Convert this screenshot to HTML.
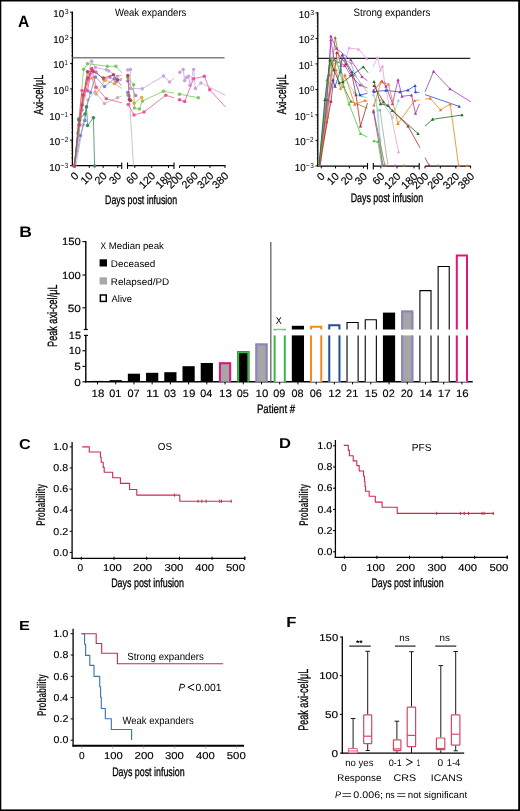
<!DOCTYPE html>
<html><head><meta charset="utf-8"><title>Figure</title>
<style>html,body{margin:0;padding:0;background:#fff;}svg{display:block;will-change:transform;text-rendering:geometricPrecision;}text{font-family:"Liberation Sans", sans-serif;}</style>
</head><body>
<svg width="520" height="811" viewBox="0 0 520 811" font-family='"Liberation Sans", sans-serif'>
<rect x="0" y="0" width="520" height="811" fill="#fff"/>
<rect x="0.00" y="0.00" width="520.00" height="1.50" fill="#000"/>
<rect x="0.00" y="0.00" width="1.30" height="811.00" fill="#000"/>
<rect x="518.20" y="0.00" width="1.80" height="811.00" fill="#000"/>
<rect x="0.00" y="809.40" width="520.00" height="1.60" fill="#000"/>
<text x="17.91" y="26.70" font-size="16.43" font-weight="bold" textLength="11.32" lengthAdjust="spacingAndGlyphs">A</text>
<text x="19.36" y="237.00" font-size="15.29" font-weight="bold" textLength="12.67" lengthAdjust="spacingAndGlyphs">B</text>
<text x="18.95" y="448.70" font-size="14.29" font-weight="bold" textLength="11.69" lengthAdjust="spacingAndGlyphs">C</text>
<text x="278.92" y="447.70" font-size="14.29" font-weight="bold" textLength="11.98" lengthAdjust="spacingAndGlyphs">D</text>
<text x="18.94" y="629.80" font-size="13.14" font-weight="bold" textLength="10.86" lengthAdjust="spacingAndGlyphs">E</text>
<text x="286.22" y="626.90" font-size="14.57" font-weight="bold" textLength="10.18" lengthAdjust="spacingAndGlyphs">F</text>
<line x1="72.40" y1="11.60" x2="72.40" y2="165.70" stroke="#000" stroke-width="1.3"/>
<line x1="72.40" y1="57.80" x2="224.50" y2="57.80" stroke="#808080" stroke-width="1.5"/>
<line x1="70.10" y1="12.20" x2="72.40" y2="12.20" stroke="#000" stroke-width="1.0"/>
<line x1="71.20" y1="30.08" x2="72.40" y2="30.08" stroke="#000" stroke-width="0.5"/>
<line x1="71.20" y1="25.58" x2="72.40" y2="25.58" stroke="#000" stroke-width="0.5"/>
<line x1="71.20" y1="22.38" x2="72.40" y2="22.38" stroke="#000" stroke-width="0.5"/>
<line x1="71.20" y1="19.90" x2="72.40" y2="19.90" stroke="#000" stroke-width="0.5"/>
<line x1="71.20" y1="17.88" x2="72.40" y2="17.88" stroke="#000" stroke-width="0.5"/>
<line x1="71.20" y1="16.16" x2="72.40" y2="16.16" stroke="#000" stroke-width="0.5"/>
<line x1="71.20" y1="14.68" x2="72.40" y2="14.68" stroke="#000" stroke-width="0.5"/>
<line x1="71.20" y1="13.37" x2="72.40" y2="13.37" stroke="#000" stroke-width="0.5"/>
<text x="53.37" y="17.20" font-size="10.00" textLength="10.84" lengthAdjust="spacingAndGlyphs" stroke="#000" stroke-width="0.14">10</text>
<text x="64.82" y="14.20" font-size="7.40" textLength="3.91" lengthAdjust="spacingAndGlyphs">3</text>
<line x1="70.10" y1="37.78" x2="72.40" y2="37.78" stroke="#000" stroke-width="1.0"/>
<line x1="71.20" y1="55.67" x2="72.40" y2="55.67" stroke="#000" stroke-width="0.5"/>
<line x1="71.20" y1="51.16" x2="72.40" y2="51.16" stroke="#000" stroke-width="0.5"/>
<line x1="71.20" y1="47.96" x2="72.40" y2="47.96" stroke="#000" stroke-width="0.5"/>
<line x1="71.20" y1="45.48" x2="72.40" y2="45.48" stroke="#000" stroke-width="0.5"/>
<line x1="71.20" y1="43.46" x2="72.40" y2="43.46" stroke="#000" stroke-width="0.5"/>
<line x1="71.20" y1="41.75" x2="72.40" y2="41.75" stroke="#000" stroke-width="0.5"/>
<line x1="71.20" y1="40.26" x2="72.40" y2="40.26" stroke="#000" stroke-width="0.5"/>
<line x1="71.20" y1="38.95" x2="72.40" y2="38.95" stroke="#000" stroke-width="0.5"/>
<text x="53.37" y="42.78" font-size="10.00" textLength="10.84" lengthAdjust="spacingAndGlyphs" stroke="#000" stroke-width="0.14">10</text>
<text x="64.74" y="39.78" font-size="7.40" textLength="4.03" lengthAdjust="spacingAndGlyphs">2</text>
<line x1="70.10" y1="63.37" x2="72.40" y2="63.37" stroke="#000" stroke-width="1.0"/>
<line x1="71.20" y1="81.25" x2="72.40" y2="81.25" stroke="#000" stroke-width="0.5"/>
<line x1="71.20" y1="76.74" x2="72.40" y2="76.74" stroke="#000" stroke-width="0.5"/>
<line x1="71.20" y1="73.55" x2="72.40" y2="73.55" stroke="#000" stroke-width="0.5"/>
<line x1="71.20" y1="71.07" x2="72.40" y2="71.07" stroke="#000" stroke-width="0.5"/>
<line x1="71.20" y1="69.04" x2="72.40" y2="69.04" stroke="#000" stroke-width="0.5"/>
<line x1="71.20" y1="67.33" x2="72.40" y2="67.33" stroke="#000" stroke-width="0.5"/>
<line x1="71.20" y1="65.85" x2="72.40" y2="65.85" stroke="#000" stroke-width="0.5"/>
<line x1="71.20" y1="64.54" x2="72.40" y2="64.54" stroke="#000" stroke-width="0.5"/>
<text x="53.37" y="68.37" font-size="10.00" textLength="10.84" lengthAdjust="spacingAndGlyphs" stroke="#000" stroke-width="0.14">10</text>
<text x="64.46" y="65.37" font-size="7.40" textLength="3.23" lengthAdjust="spacingAndGlyphs">1</text>
<line x1="70.10" y1="88.95" x2="72.40" y2="88.95" stroke="#000" stroke-width="1.0"/>
<line x1="71.20" y1="106.83" x2="72.40" y2="106.83" stroke="#000" stroke-width="0.5"/>
<line x1="71.20" y1="102.33" x2="72.40" y2="102.33" stroke="#000" stroke-width="0.5"/>
<line x1="71.20" y1="99.13" x2="72.40" y2="99.13" stroke="#000" stroke-width="0.5"/>
<line x1="71.20" y1="96.65" x2="72.40" y2="96.65" stroke="#000" stroke-width="0.5"/>
<line x1="71.20" y1="94.63" x2="72.40" y2="94.63" stroke="#000" stroke-width="0.5"/>
<line x1="71.20" y1="92.91" x2="72.40" y2="92.91" stroke="#000" stroke-width="0.5"/>
<line x1="71.20" y1="91.43" x2="72.40" y2="91.43" stroke="#000" stroke-width="0.5"/>
<line x1="71.20" y1="90.12" x2="72.40" y2="90.12" stroke="#000" stroke-width="0.5"/>
<text x="53.37" y="93.95" font-size="10.00" textLength="10.84" lengthAdjust="spacingAndGlyphs" stroke="#000" stroke-width="0.14">10</text>
<text x="64.82" y="90.95" font-size="7.40" textLength="3.86" lengthAdjust="spacingAndGlyphs">0</text>
<line x1="70.10" y1="114.53" x2="72.40" y2="114.53" stroke="#000" stroke-width="1.0"/>
<line x1="71.20" y1="132.42" x2="72.40" y2="132.42" stroke="#000" stroke-width="0.5"/>
<line x1="71.20" y1="127.91" x2="72.40" y2="127.91" stroke="#000" stroke-width="0.5"/>
<line x1="71.20" y1="124.71" x2="72.40" y2="124.71" stroke="#000" stroke-width="0.5"/>
<line x1="71.20" y1="122.23" x2="72.40" y2="122.23" stroke="#000" stroke-width="0.5"/>
<line x1="71.20" y1="120.21" x2="72.40" y2="120.21" stroke="#000" stroke-width="0.5"/>
<line x1="71.20" y1="118.50" x2="72.40" y2="118.50" stroke="#000" stroke-width="0.5"/>
<line x1="71.20" y1="117.01" x2="72.40" y2="117.01" stroke="#000" stroke-width="0.5"/>
<line x1="71.20" y1="115.70" x2="72.40" y2="115.70" stroke="#000" stroke-width="0.5"/>
<text x="49.36" y="119.53" font-size="10.00" textLength="10.96" lengthAdjust="spacingAndGlyphs" stroke="#000" stroke-width="0.14">10</text>
<text x="60.45" y="116.53" font-size="7.40" textLength="4.09" lengthAdjust="spacingAndGlyphs">−</text>
<text x="64.78" y="116.53" font-size="7.40" textLength="3.10" lengthAdjust="spacingAndGlyphs">1</text>
<line x1="70.10" y1="140.12" x2="72.40" y2="140.12" stroke="#000" stroke-width="1.0"/>
<line x1="71.20" y1="158.00" x2="72.40" y2="158.00" stroke="#000" stroke-width="0.5"/>
<line x1="71.20" y1="153.49" x2="72.40" y2="153.49" stroke="#000" stroke-width="0.5"/>
<line x1="71.20" y1="150.30" x2="72.40" y2="150.30" stroke="#000" stroke-width="0.5"/>
<line x1="71.20" y1="147.82" x2="72.40" y2="147.82" stroke="#000" stroke-width="0.5"/>
<line x1="71.20" y1="145.79" x2="72.40" y2="145.79" stroke="#000" stroke-width="0.5"/>
<line x1="71.20" y1="144.08" x2="72.40" y2="144.08" stroke="#000" stroke-width="0.5"/>
<line x1="71.20" y1="142.60" x2="72.40" y2="142.60" stroke="#000" stroke-width="0.5"/>
<line x1="71.20" y1="141.29" x2="72.40" y2="141.29" stroke="#000" stroke-width="0.5"/>
<text x="49.36" y="145.12" font-size="10.00" textLength="10.96" lengthAdjust="spacingAndGlyphs" stroke="#000" stroke-width="0.14">10</text>
<text x="60.45" y="142.12" font-size="7.40" textLength="4.09" lengthAdjust="spacingAndGlyphs">−</text>
<text x="64.67" y="142.12" font-size="7.40" textLength="3.67" lengthAdjust="spacingAndGlyphs">2</text>
<line x1="70.10" y1="165.70" x2="72.40" y2="165.70" stroke="#000" stroke-width="1.0"/>
<text x="49.36" y="170.70" font-size="10.00" textLength="10.96" lengthAdjust="spacingAndGlyphs" stroke="#000" stroke-width="0.14">10</text>
<text x="60.45" y="167.70" font-size="7.40" textLength="4.09" lengthAdjust="spacingAndGlyphs">−</text>
<text x="64.74" y="167.70" font-size="7.40" textLength="3.55" lengthAdjust="spacingAndGlyphs">3</text>
<line x1="71.75" y1="165.70" x2="121.70" y2="165.70" stroke="#000" stroke-width="1.3"/>
<line x1="121.70" y1="162.50" x2="121.70" y2="168.90" stroke="#000" stroke-width="1.1"/>
<line x1="127.50" y1="165.70" x2="174.00" y2="165.70" stroke="#000" stroke-width="1.3"/>
<line x1="127.50" y1="162.50" x2="127.50" y2="168.90" stroke="#000" stroke-width="1.1"/>
<line x1="174.00" y1="162.50" x2="174.00" y2="168.90" stroke="#000" stroke-width="1.1"/>
<line x1="179.50" y1="165.70" x2="225.50" y2="165.70" stroke="#000" stroke-width="1.3"/>
<line x1="74.90" y1="165.70" x2="74.90" y2="167.90" stroke="#000" stroke-width="1.0"/>
<line x1="89.30" y1="165.70" x2="89.30" y2="167.90" stroke="#000" stroke-width="1.0"/>
<line x1="103.20" y1="165.70" x2="103.20" y2="167.90" stroke="#000" stroke-width="1.0"/>
<line x1="117.80" y1="165.70" x2="117.80" y2="167.90" stroke="#000" stroke-width="1.0"/>
<line x1="134.80" y1="165.70" x2="134.80" y2="167.90" stroke="#000" stroke-width="1.0"/>
<line x1="151.70" y1="165.70" x2="151.70" y2="167.90" stroke="#000" stroke-width="1.0"/>
<line x1="168.50" y1="165.70" x2="168.50" y2="167.90" stroke="#000" stroke-width="1.0"/>
<line x1="179.50" y1="165.70" x2="179.50" y2="167.90" stroke="#000" stroke-width="1.0"/>
<line x1="194.50" y1="165.70" x2="194.50" y2="167.90" stroke="#000" stroke-width="1.0"/>
<line x1="210.00" y1="165.70" x2="210.00" y2="167.90" stroke="#000" stroke-width="1.0"/>
<line x1="225.00" y1="165.70" x2="225.00" y2="167.90" stroke="#000" stroke-width="1.0"/>
<text x="79.20" y="176.40" font-size="10.8" text-anchor="end" transform="rotate(-45 79.20 176.40)" stroke="#000" stroke-width="0.15">0</text>
<text x="93.60" y="176.40" font-size="10.8" text-anchor="end" transform="rotate(-45 93.60 176.40)" stroke="#000" stroke-width="0.15">10</text>
<text x="107.50" y="176.40" font-size="10.8" text-anchor="end" transform="rotate(-45 107.50 176.40)" stroke="#000" stroke-width="0.15">20</text>
<text x="122.10" y="176.40" font-size="10.8" text-anchor="end" transform="rotate(-45 122.10 176.40)" stroke="#000" stroke-width="0.15">30</text>
<text x="139.10" y="176.40" font-size="10.8" text-anchor="end" transform="rotate(-45 139.10 176.40)" stroke="#000" stroke-width="0.15">60</text>
<text x="156.00" y="176.40" font-size="10.8" text-anchor="end" transform="rotate(-45 156.00 176.40)" stroke="#000" stroke-width="0.15">120</text>
<text x="172.80" y="176.40" font-size="10.8" text-anchor="end" transform="rotate(-45 172.80 176.40)" stroke="#000" stroke-width="0.15">180</text>
<text x="183.80" y="176.40" font-size="10.8" text-anchor="end" transform="rotate(-45 183.80 176.40)" stroke="#000" stroke-width="0.15">200</text>
<text x="198.80" y="176.40" font-size="10.8" text-anchor="end" transform="rotate(-45 198.80 176.40)" stroke="#000" stroke-width="0.15">260</text>
<text x="214.30" y="176.40" font-size="10.8" text-anchor="end" transform="rotate(-45 214.30 176.40)" stroke="#000" stroke-width="0.15">320</text>
<text x="229.30" y="176.40" font-size="10.8" text-anchor="end" transform="rotate(-45 229.30 176.40)" stroke="#000" stroke-width="0.15">380</text>
<text x="114.95" y="15.80" font-size="10.60" textLength="71.39" lengthAdjust="spacingAndGlyphs">Weak expanders</text>
<text x="42.70" y="114.65" font-size="13.20" textLength="40.02" lengthAdjust="spacingAndGlyphs" transform="rotate(-90 42.70 114.65)" stroke="#000" stroke-width="0.3">Axi-cel/μL</text>
<text x="105.10" y="203.50" font-size="12.40" textLength="71.99" lengthAdjust="spacingAndGlyphs" stroke="#000" stroke-width="0.3">Days post infusion</text>
<line x1="317.80" y1="12.30" x2="317.80" y2="166.20" stroke="#000" stroke-width="1.3"/>
<line x1="317.80" y1="58.40" x2="470.30" y2="58.40" stroke="#222" stroke-width="1.2"/>
<line x1="315.50" y1="12.90" x2="317.80" y2="12.90" stroke="#000" stroke-width="1.0"/>
<line x1="316.60" y1="30.72" x2="317.80" y2="30.72" stroke="#000" stroke-width="0.5"/>
<line x1="316.60" y1="26.23" x2="317.80" y2="26.23" stroke="#000" stroke-width="0.5"/>
<line x1="316.60" y1="23.05" x2="317.80" y2="23.05" stroke="#000" stroke-width="0.5"/>
<line x1="316.60" y1="20.58" x2="317.80" y2="20.58" stroke="#000" stroke-width="0.5"/>
<line x1="316.60" y1="18.56" x2="317.80" y2="18.56" stroke="#000" stroke-width="0.5"/>
<line x1="316.60" y1="16.85" x2="317.80" y2="16.85" stroke="#000" stroke-width="0.5"/>
<line x1="316.60" y1="15.37" x2="317.80" y2="15.37" stroke="#000" stroke-width="0.5"/>
<line x1="316.60" y1="14.07" x2="317.80" y2="14.07" stroke="#000" stroke-width="0.5"/>
<text x="298.77" y="17.90" font-size="10.00" textLength="10.84" lengthAdjust="spacingAndGlyphs" stroke="#000" stroke-width="0.14">10</text>
<text x="310.22" y="14.90" font-size="7.40" textLength="3.91" lengthAdjust="spacingAndGlyphs">3</text>
<line x1="315.50" y1="38.40" x2="317.80" y2="38.40" stroke="#000" stroke-width="1.0"/>
<line x1="316.60" y1="56.22" x2="317.80" y2="56.22" stroke="#000" stroke-width="0.5"/>
<line x1="316.60" y1="51.73" x2="317.80" y2="51.73" stroke="#000" stroke-width="0.5"/>
<line x1="316.60" y1="48.55" x2="317.80" y2="48.55" stroke="#000" stroke-width="0.5"/>
<line x1="316.60" y1="46.08" x2="317.80" y2="46.08" stroke="#000" stroke-width="0.5"/>
<line x1="316.60" y1="44.06" x2="317.80" y2="44.06" stroke="#000" stroke-width="0.5"/>
<line x1="316.60" y1="42.35" x2="317.80" y2="42.35" stroke="#000" stroke-width="0.5"/>
<line x1="316.60" y1="40.87" x2="317.80" y2="40.87" stroke="#000" stroke-width="0.5"/>
<line x1="316.60" y1="39.57" x2="317.80" y2="39.57" stroke="#000" stroke-width="0.5"/>
<text x="298.77" y="43.40" font-size="10.00" textLength="10.84" lengthAdjust="spacingAndGlyphs" stroke="#000" stroke-width="0.14">10</text>
<text x="310.14" y="40.40" font-size="7.40" textLength="4.03" lengthAdjust="spacingAndGlyphs">2</text>
<line x1="315.50" y1="63.90" x2="317.80" y2="63.90" stroke="#000" stroke-width="1.0"/>
<line x1="316.60" y1="81.72" x2="317.80" y2="81.72" stroke="#000" stroke-width="0.5"/>
<line x1="316.60" y1="77.23" x2="317.80" y2="77.23" stroke="#000" stroke-width="0.5"/>
<line x1="316.60" y1="74.05" x2="317.80" y2="74.05" stroke="#000" stroke-width="0.5"/>
<line x1="316.60" y1="71.58" x2="317.80" y2="71.58" stroke="#000" stroke-width="0.5"/>
<line x1="316.60" y1="69.56" x2="317.80" y2="69.56" stroke="#000" stroke-width="0.5"/>
<line x1="316.60" y1="67.85" x2="317.80" y2="67.85" stroke="#000" stroke-width="0.5"/>
<line x1="316.60" y1="66.37" x2="317.80" y2="66.37" stroke="#000" stroke-width="0.5"/>
<line x1="316.60" y1="65.07" x2="317.80" y2="65.07" stroke="#000" stroke-width="0.5"/>
<text x="298.77" y="68.90" font-size="10.00" textLength="10.84" lengthAdjust="spacingAndGlyphs" stroke="#000" stroke-width="0.14">10</text>
<text x="309.86" y="65.90" font-size="7.40" textLength="3.23" lengthAdjust="spacingAndGlyphs">1</text>
<line x1="315.50" y1="89.40" x2="317.80" y2="89.40" stroke="#000" stroke-width="1.0"/>
<line x1="316.60" y1="107.22" x2="317.80" y2="107.22" stroke="#000" stroke-width="0.5"/>
<line x1="316.60" y1="102.73" x2="317.80" y2="102.73" stroke="#000" stroke-width="0.5"/>
<line x1="316.60" y1="99.55" x2="317.80" y2="99.55" stroke="#000" stroke-width="0.5"/>
<line x1="316.60" y1="97.08" x2="317.80" y2="97.08" stroke="#000" stroke-width="0.5"/>
<line x1="316.60" y1="95.06" x2="317.80" y2="95.06" stroke="#000" stroke-width="0.5"/>
<line x1="316.60" y1="93.35" x2="317.80" y2="93.35" stroke="#000" stroke-width="0.5"/>
<line x1="316.60" y1="91.87" x2="317.80" y2="91.87" stroke="#000" stroke-width="0.5"/>
<line x1="316.60" y1="90.57" x2="317.80" y2="90.57" stroke="#000" stroke-width="0.5"/>
<text x="298.77" y="94.40" font-size="10.00" textLength="10.84" lengthAdjust="spacingAndGlyphs" stroke="#000" stroke-width="0.14">10</text>
<text x="310.22" y="91.40" font-size="7.40" textLength="3.86" lengthAdjust="spacingAndGlyphs">0</text>
<line x1="315.50" y1="114.90" x2="317.80" y2="114.90" stroke="#000" stroke-width="1.0"/>
<line x1="316.60" y1="132.72" x2="317.80" y2="132.72" stroke="#000" stroke-width="0.5"/>
<line x1="316.60" y1="128.23" x2="317.80" y2="128.23" stroke="#000" stroke-width="0.5"/>
<line x1="316.60" y1="125.05" x2="317.80" y2="125.05" stroke="#000" stroke-width="0.5"/>
<line x1="316.60" y1="122.58" x2="317.80" y2="122.58" stroke="#000" stroke-width="0.5"/>
<line x1="316.60" y1="120.56" x2="317.80" y2="120.56" stroke="#000" stroke-width="0.5"/>
<line x1="316.60" y1="118.85" x2="317.80" y2="118.85" stroke="#000" stroke-width="0.5"/>
<line x1="316.60" y1="117.37" x2="317.80" y2="117.37" stroke="#000" stroke-width="0.5"/>
<line x1="316.60" y1="116.07" x2="317.80" y2="116.07" stroke="#000" stroke-width="0.5"/>
<text x="294.76" y="119.90" font-size="10.00" textLength="10.96" lengthAdjust="spacingAndGlyphs" stroke="#000" stroke-width="0.14">10</text>
<text x="305.85" y="116.90" font-size="7.40" textLength="4.09" lengthAdjust="spacingAndGlyphs">−</text>
<text x="310.18" y="116.90" font-size="7.40" textLength="3.10" lengthAdjust="spacingAndGlyphs">1</text>
<line x1="315.50" y1="140.40" x2="317.80" y2="140.40" stroke="#000" stroke-width="1.0"/>
<line x1="316.60" y1="158.22" x2="317.80" y2="158.22" stroke="#000" stroke-width="0.5"/>
<line x1="316.60" y1="153.73" x2="317.80" y2="153.73" stroke="#000" stroke-width="0.5"/>
<line x1="316.60" y1="150.55" x2="317.80" y2="150.55" stroke="#000" stroke-width="0.5"/>
<line x1="316.60" y1="148.08" x2="317.80" y2="148.08" stroke="#000" stroke-width="0.5"/>
<line x1="316.60" y1="146.06" x2="317.80" y2="146.06" stroke="#000" stroke-width="0.5"/>
<line x1="316.60" y1="144.35" x2="317.80" y2="144.35" stroke="#000" stroke-width="0.5"/>
<line x1="316.60" y1="142.87" x2="317.80" y2="142.87" stroke="#000" stroke-width="0.5"/>
<line x1="316.60" y1="141.57" x2="317.80" y2="141.57" stroke="#000" stroke-width="0.5"/>
<text x="294.76" y="145.40" font-size="10.00" textLength="10.96" lengthAdjust="spacingAndGlyphs" stroke="#000" stroke-width="0.14">10</text>
<text x="305.85" y="142.40" font-size="7.40" textLength="4.09" lengthAdjust="spacingAndGlyphs">−</text>
<text x="310.07" y="142.40" font-size="7.40" textLength="3.67" lengthAdjust="spacingAndGlyphs">2</text>
<line x1="315.50" y1="165.90" x2="317.80" y2="165.90" stroke="#000" stroke-width="1.0"/>
<text x="294.76" y="170.90" font-size="10.00" textLength="10.96" lengthAdjust="spacingAndGlyphs" stroke="#000" stroke-width="0.14">10</text>
<text x="305.85" y="167.90" font-size="7.40" textLength="4.09" lengthAdjust="spacingAndGlyphs">−</text>
<text x="310.14" y="167.90" font-size="7.40" textLength="3.55" lengthAdjust="spacingAndGlyphs">3</text>
<line x1="317.15" y1="166.20" x2="367.50" y2="166.20" stroke="#000" stroke-width="1.3"/>
<line x1="367.50" y1="163.00" x2="367.50" y2="169.40" stroke="#000" stroke-width="1.1"/>
<line x1="373.30" y1="166.20" x2="419.20" y2="166.20" stroke="#000" stroke-width="1.3"/>
<line x1="373.30" y1="163.00" x2="373.30" y2="169.40" stroke="#000" stroke-width="1.1"/>
<line x1="419.20" y1="163.00" x2="419.20" y2="169.40" stroke="#000" stroke-width="1.1"/>
<line x1="425.00" y1="166.20" x2="471.00" y2="166.20" stroke="#000" stroke-width="1.3"/>
<line x1="321.30" y1="166.20" x2="321.30" y2="168.40" stroke="#000" stroke-width="1.0"/>
<line x1="335.50" y1="166.20" x2="335.50" y2="168.40" stroke="#000" stroke-width="1.0"/>
<line x1="349.40" y1="166.20" x2="349.40" y2="168.40" stroke="#000" stroke-width="1.0"/>
<line x1="363.50" y1="166.20" x2="363.50" y2="168.40" stroke="#000" stroke-width="1.0"/>
<line x1="380.90" y1="166.20" x2="380.90" y2="168.40" stroke="#000" stroke-width="1.0"/>
<line x1="397.00" y1="166.20" x2="397.00" y2="168.40" stroke="#000" stroke-width="1.0"/>
<line x1="414.00" y1="166.20" x2="414.00" y2="168.40" stroke="#000" stroke-width="1.0"/>
<line x1="425.00" y1="166.20" x2="425.00" y2="168.40" stroke="#000" stroke-width="1.0"/>
<line x1="440.30" y1="166.20" x2="440.30" y2="168.40" stroke="#000" stroke-width="1.0"/>
<line x1="455.80" y1="166.20" x2="455.80" y2="168.40" stroke="#000" stroke-width="1.0"/>
<line x1="470.60" y1="166.20" x2="470.60" y2="168.40" stroke="#000" stroke-width="1.0"/>
<text x="325.60" y="176.90" font-size="10.8" text-anchor="end" transform="rotate(-45 325.60 176.90)" stroke="#000" stroke-width="0.15">0</text>
<text x="339.80" y="176.90" font-size="10.8" text-anchor="end" transform="rotate(-45 339.80 176.90)" stroke="#000" stroke-width="0.15">10</text>
<text x="353.70" y="176.90" font-size="10.8" text-anchor="end" transform="rotate(-45 353.70 176.90)" stroke="#000" stroke-width="0.15">20</text>
<text x="367.80" y="176.90" font-size="10.8" text-anchor="end" transform="rotate(-45 367.80 176.90)" stroke="#000" stroke-width="0.15">30</text>
<text x="385.20" y="176.90" font-size="10.8" text-anchor="end" transform="rotate(-45 385.20 176.90)" stroke="#000" stroke-width="0.15">60</text>
<text x="401.30" y="176.90" font-size="10.8" text-anchor="end" transform="rotate(-45 401.30 176.90)" stroke="#000" stroke-width="0.15">120</text>
<text x="418.30" y="176.90" font-size="10.8" text-anchor="end" transform="rotate(-45 418.30 176.90)" stroke="#000" stroke-width="0.15">180</text>
<text x="429.30" y="176.90" font-size="10.8" text-anchor="end" transform="rotate(-45 429.30 176.90)" stroke="#000" stroke-width="0.15">200</text>
<text x="444.60" y="176.90" font-size="10.8" text-anchor="end" transform="rotate(-45 444.60 176.90)" stroke="#000" stroke-width="0.15">260</text>
<text x="460.10" y="176.90" font-size="10.8" text-anchor="end" transform="rotate(-45 460.10 176.90)" stroke="#000" stroke-width="0.15">320</text>
<text x="474.90" y="176.90" font-size="10.8" text-anchor="end" transform="rotate(-45 474.90 176.90)" stroke="#000" stroke-width="0.15">380</text>
<text x="353.56" y="15.70" font-size="10.60" textLength="76.77" lengthAdjust="spacingAndGlyphs">Strong expanders</text>
<text x="285.50" y="114.25" font-size="13.20" textLength="39.82" lengthAdjust="spacingAndGlyphs" transform="rotate(-90 285.50 114.25)" stroke="#000" stroke-width="0.3">Axi-cel/μL</text>
<text x="350.69" y="202.00" font-size="12.40" textLength="72.39" lengthAdjust="spacingAndGlyphs" stroke="#000" stroke-width="0.3">Days post infusion</text>
<polyline points="74.50,165.70 80.00,125.00 84.00,95.00 87.00,80.00 91.60,61.30 95.40,67.50 106.30,69.80 108.80,70.90 117.50,76.30 121.90,75.00" fill="none" stroke="#c8a4dc" stroke-width="0.8" stroke-linejoin="round"/>
<circle cx="80.00" cy="125.00" r="1.75" fill="#c8a4dc"/>
<circle cx="84.00" cy="95.00" r="1.75" fill="#c8a4dc"/>
<circle cx="87.00" cy="80.00" r="1.75" fill="#c8a4dc"/>
<circle cx="91.60" cy="61.30" r="1.75" fill="#c8a4dc"/>
<circle cx="95.40" cy="67.50" r="1.75" fill="#c8a4dc"/>
<circle cx="106.30" cy="69.80" r="1.75" fill="#c8a4dc"/>
<circle cx="108.80" cy="70.90" r="1.75" fill="#c8a4dc"/>
<circle cx="117.50" cy="76.30" r="1.75" fill="#c8a4dc"/>
<polyline points="127.80,70.00 130.40,69.40 130.40,88.50 142.20,88.70 163.60,76.00 169.60,82.10 174.20,78.10" fill="none" stroke="#c8a4dc" stroke-width="0.8" stroke-linejoin="round"/>
<circle cx="127.80" cy="70.00" r="1.75" fill="#c8a4dc"/>
<circle cx="130.40" cy="69.40" r="1.75" fill="#c8a4dc"/>
<circle cx="130.40" cy="88.50" r="1.75" fill="#c8a4dc"/>
<circle cx="142.20" cy="88.70" r="1.75" fill="#c8a4dc"/>
<circle cx="163.60" cy="76.00" r="1.75" fill="#c8a4dc"/>
<circle cx="169.60" cy="82.10" r="1.75" fill="#c8a4dc"/>
<polyline points="179.80,72.30 183.20,69.40 184.70,80.60 186.60,77.50 188.50,76.30 190.00,85.20 193.60,69.40 195.40,88.50 200.90,82.90 225.40,95.20" fill="none" stroke="#c8a4dc" stroke-width="0.8" stroke-linejoin="round"/>
<circle cx="179.80" cy="72.30" r="1.75" fill="#c8a4dc"/>
<circle cx="183.20" cy="69.40" r="1.75" fill="#c8a4dc"/>
<circle cx="184.70" cy="80.60" r="1.75" fill="#c8a4dc"/>
<circle cx="186.60" cy="77.50" r="1.75" fill="#c8a4dc"/>
<circle cx="188.50" cy="76.30" r="1.75" fill="#c8a4dc"/>
<circle cx="190.00" cy="85.20" r="1.75" fill="#c8a4dc"/>
<circle cx="193.60" cy="69.40" r="1.75" fill="#c8a4dc"/>
<circle cx="195.40" cy="88.50" r="1.75" fill="#c8a4dc"/>
<circle cx="200.90" cy="82.90" r="1.75" fill="#c8a4dc"/>
<polyline points="74.50,165.70 82.00,110.00 86.00,90.00 90.00,74.00 96.00,72.00 104.00,80.00 110.00,77.00 116.00,82.00 121.90,80.00" fill="none" stroke="#b07ac8" stroke-width="0.8" stroke-linejoin="round"/>
<circle cx="82.00" cy="110.00" r="1.75" fill="#b07ac8"/>
<circle cx="86.00" cy="90.00" r="1.75" fill="#b07ac8"/>
<circle cx="90.00" cy="74.00" r="1.75" fill="#b07ac8"/>
<circle cx="96.00" cy="72.00" r="1.75" fill="#b07ac8"/>
<circle cx="104.00" cy="80.00" r="1.75" fill="#b07ac8"/>
<circle cx="110.00" cy="77.00" r="1.75" fill="#b07ac8"/>
<circle cx="116.00" cy="82.00" r="1.75" fill="#b07ac8"/>
<polyline points="127.80,81.00 135.60,95.40" fill="none" stroke="#b07ac8" stroke-width="0.8" stroke-linejoin="round"/>
<circle cx="127.80" cy="81.00" r="1.75" fill="#b07ac8"/>
<circle cx="135.60" cy="95.40" r="1.75" fill="#b07ac8"/>
<polyline points="74.50,165.70 80.00,120.00 84.00,96.00 86.60,83.60 92.00,78.10 96.20,94.00 105.30,80.20 114.40,83.80 121.90,88.50" fill="none" stroke="#f5a04c" stroke-width="0.8" stroke-linejoin="round"/>
<circle cx="80.00" cy="120.00" r="1.75" fill="#f5a04c"/>
<circle cx="84.00" cy="96.00" r="1.75" fill="#f5a04c"/>
<circle cx="86.60" cy="83.60" r="1.75" fill="#f5a04c"/>
<circle cx="92.00" cy="78.10" r="1.75" fill="#f5a04c"/>
<circle cx="96.20" cy="94.00" r="1.75" fill="#f5a04c"/>
<circle cx="105.30" cy="80.20" r="1.75" fill="#f5a04c"/>
<circle cx="114.40" cy="83.80" r="1.75" fill="#f5a04c"/>
<polyline points="127.80,95.00 134.20,103.20 141.60,97.50" fill="none" stroke="#f5a04c" stroke-width="0.8" stroke-linejoin="round"/>
<circle cx="127.80" cy="95.00" r="1.75" fill="#f5a04c"/>
<circle cx="134.20" cy="103.20" r="1.75" fill="#f5a04c"/>
<circle cx="141.60" cy="97.50" r="1.75" fill="#f5a04c"/>
<polyline points="76.00,165.70 83.00,125.00 88.00,100.00 95.00,91.90 104.50,103.50 117.50,97.70 121.90,96.00" fill="none" stroke="#b9b9b9" stroke-width="0.8" stroke-linejoin="round"/>
<circle cx="83.00" cy="125.00" r="1.75" fill="#b9b9b9"/>
<circle cx="88.00" cy="100.00" r="1.75" fill="#b9b9b9"/>
<circle cx="95.00" cy="91.90" r="1.75" fill="#b9b9b9"/>
<circle cx="104.50" cy="103.50" r="1.75" fill="#b9b9b9"/>
<circle cx="117.50" cy="97.70" r="1.75" fill="#b9b9b9"/>
<polyline points="129.50,100.00 133.50,165.70" fill="none" stroke="#b9b9b9" stroke-width="0.8" stroke-linejoin="round"/>
<circle cx="129.50" cy="100.00" r="1.75" fill="#b9b9b9"/>
<polyline points="74.50,165.70 80.40,135.60 84.80,120.60 86.50,107.00 90.50,92.50 95.40,76.90 104.50,86.40 114.40,78.70 121.90,85.60" fill="none" stroke="#6f86d6" stroke-width="0.8" stroke-linejoin="round"/>
<circle cx="80.40" cy="135.60" r="1.75" fill="#6f86d6"/>
<circle cx="84.80" cy="120.60" r="1.75" fill="#6f86d6"/>
<circle cx="86.50" cy="107.00" r="1.75" fill="#6f86d6"/>
<circle cx="90.50" cy="92.50" r="1.75" fill="#6f86d6"/>
<circle cx="95.40" cy="76.90" r="1.75" fill="#6f86d6"/>
<circle cx="104.50" cy="86.40" r="1.75" fill="#6f86d6"/>
<circle cx="114.40" cy="78.70" r="1.75" fill="#6f86d6"/>
<polyline points="127.80,92.50 129.00,96.00" fill="none" stroke="#6f86d6" stroke-width="0.8" stroke-linejoin="round"/>
<circle cx="127.80" cy="92.50" r="1.75" fill="#6f86d6"/>
<circle cx="129.00" cy="96.00" r="1.75" fill="#6f86d6"/>
<polyline points="74.50,165.70 77.80,133.00 83.60,69.20 87.50,63.70 107.30,66.30 115.90,66.30 121.90,72.90" fill="none" stroke="#7cc95c" stroke-width="0.8" stroke-linejoin="round"/>
<circle cx="77.80" cy="133.00" r="1.75" fill="#7cc95c"/>
<circle cx="83.60" cy="69.20" r="1.75" fill="#7cc95c"/>
<circle cx="87.50" cy="63.70" r="1.75" fill="#7cc95c"/>
<circle cx="107.30" cy="66.30" r="1.75" fill="#7cc95c"/>
<circle cx="115.90" cy="66.30" r="1.75" fill="#7cc95c"/>
<polyline points="127.80,77.50 133.60,84.80 134.40,108.10 139.40,109.00 142.50,100.90 163.40,91.30 174.20,93.10" fill="none" stroke="#7cc95c" stroke-width="0.8" stroke-linejoin="round"/>
<circle cx="127.80" cy="77.50" r="1.75" fill="#7cc95c"/>
<circle cx="133.60" cy="84.80" r="1.75" fill="#7cc95c"/>
<circle cx="134.40" cy="108.10" r="1.75" fill="#7cc95c"/>
<circle cx="139.40" cy="109.00" r="1.75" fill="#7cc95c"/>
<circle cx="142.50" cy="100.90" r="1.75" fill="#7cc95c"/>
<circle cx="163.40" cy="91.30" r="1.75" fill="#7cc95c"/>
<polyline points="179.50,94.20 198.30,97.70" fill="none" stroke="#7cc95c" stroke-width="0.8" stroke-linejoin="round"/>
<circle cx="179.50" cy="94.20" r="1.75" fill="#7cc95c"/>
<circle cx="198.30" cy="97.70" r="1.75" fill="#7cc95c"/>
<polyline points="74.50,165.70 79.20,120.60 82.00,105.00 87.50,71.70 93.00,71.20 103.40,78.10 113.40,74.80 117.50,79.80 121.90,78.70" fill="none" stroke="#b4484e" stroke-width="0.8" stroke-linejoin="round"/>
<circle cx="79.20" cy="120.60" r="1.75" fill="#b4484e"/>
<circle cx="82.00" cy="105.00" r="1.75" fill="#b4484e"/>
<circle cx="87.50" cy="71.70" r="1.75" fill="#b4484e"/>
<circle cx="93.00" cy="71.20" r="1.75" fill="#b4484e"/>
<circle cx="103.40" cy="78.10" r="1.75" fill="#b4484e"/>
<circle cx="113.40" cy="74.80" r="1.75" fill="#b4484e"/>
<circle cx="117.50" cy="79.80" r="1.75" fill="#b4484e"/>
<polyline points="127.80,75.50 129.40,99.40 130.40,100.60" fill="none" stroke="#b4484e" stroke-width="0.8" stroke-linejoin="round"/>
<circle cx="127.80" cy="75.50" r="1.75" fill="#b4484e"/>
<circle cx="129.40" cy="99.40" r="1.75" fill="#b4484e"/>
<circle cx="130.40" cy="100.60" r="1.75" fill="#b4484e"/>
<polyline points="74.50,165.70 82.00,90.50 87.50,90.80 91.60,68.60 96.20,87.30 106.30,98.80 121.90,102.90" fill="none" stroke="#f0559c" stroke-width="0.8" stroke-linejoin="round"/>
<circle cx="82.00" cy="90.50" r="1.75" fill="#f0559c"/>
<circle cx="87.50" cy="90.80" r="1.75" fill="#f0559c"/>
<circle cx="91.60" cy="68.60" r="1.75" fill="#f0559c"/>
<circle cx="96.20" cy="87.30" r="1.75" fill="#f0559c"/>
<circle cx="106.30" cy="98.80" r="1.75" fill="#f0559c"/>
<polyline points="128.30,104.60 134.00,115.00 144.00,112.10 165.80,95.20 174.20,97.90" fill="none" stroke="#f0559c" stroke-width="0.8" stroke-linejoin="round"/>
<circle cx="128.30" cy="104.60" r="1.75" fill="#f0559c"/>
<circle cx="134.00" cy="115.00" r="1.75" fill="#f0559c"/>
<circle cx="144.00" cy="112.10" r="1.75" fill="#f0559c"/>
<circle cx="165.80" cy="95.20" r="1.75" fill="#f0559c"/>
<polyline points="179.50,99.80 184.70,101.50 193.60,78.70 204.30,76.30 209.70,89.80 225.40,106.90" fill="none" stroke="#f0559c" stroke-width="0.8" stroke-linejoin="round"/>
<circle cx="179.50" cy="99.80" r="1.75" fill="#f0559c"/>
<circle cx="184.70" cy="101.50" r="1.75" fill="#f0559c"/>
<circle cx="193.60" cy="78.70" r="1.75" fill="#f0559c"/>
<circle cx="204.30" cy="76.30" r="1.75" fill="#f0559c"/>
<circle cx="209.70" cy="89.80" r="1.75" fill="#f0559c"/>
<polyline points="74.00,165.70 79.00,125.00 83.00,95.00 88.00,78.00 92.00,70.00" fill="none" stroke="#e03a62" stroke-width="0.8" stroke-linejoin="round"/>
<circle cx="79.00" cy="125.00" r="1.75" fill="#e03a62"/>
<circle cx="83.00" cy="95.00" r="1.75" fill="#e03a62"/>
<circle cx="88.00" cy="78.00" r="1.75" fill="#e03a62"/>
<circle cx="92.00" cy="70.00" r="1.75" fill="#e03a62"/>
<polyline points="74.50,165.70 78.70,119.10 85.00,114.00 86.50,106.70 87.50,125.50 93.40,117.70 94.60,165.70" fill="none" stroke="#3f8a5e" stroke-width="0.8" stroke-linejoin="round"/>
<circle cx="78.70" cy="119.10" r="1.75" fill="#3f8a5e"/>
<circle cx="85.00" cy="114.00" r="1.75" fill="#3f8a5e"/>
<circle cx="86.50" cy="106.70" r="1.75" fill="#3f8a5e"/>
<circle cx="87.50" cy="125.50" r="1.75" fill="#3f8a5e"/>
<circle cx="93.40" cy="117.70" r="1.75" fill="#3f8a5e"/>
<circle cx="73.80" cy="165.90" r="1.75" fill="#e03a62"/>
<circle cx="94.60" cy="165.90" r="1.75" fill="#3f8a5e"/>
<polyline points="320.00,166.20 330.00,65.00 345.00,60.00 351.00,63.00 355.00,75.00 362.00,85.00 367.50,92.00" fill="none" stroke="#a4a4a4" stroke-width="0.8" stroke-linejoin="round"/>
<path d="M330.00,63.30 L331.70,66.36 L328.30,66.36 Z" fill="#a4a4a4"/>
<path d="M345.00,58.30 L346.70,61.36 L343.30,61.36 Z" fill="#a4a4a4"/>
<path d="M351.00,61.30 L352.70,64.36 L349.30,64.36 Z" fill="#a4a4a4"/>
<path d="M355.00,73.30 L356.70,76.36 L353.30,76.36 Z" fill="#a4a4a4"/>
<path d="M362.00,83.30 L363.70,86.36 L360.30,86.36 Z" fill="#a4a4a4"/>
<polyline points="380.00,110.00 388.00,166.20" fill="none" stroke="#a4a4a4" stroke-width="0.8" stroke-linejoin="round"/>
<path d="M380.00,108.30 L381.70,111.36 L378.30,111.36 Z" fill="#a4a4a4"/>
<polyline points="319.00,166.20 329.00,68.00 334.00,60.00 340.00,70.00 354.30,92.60 362.00,96.00 367.50,98.00" fill="none" stroke="#8fd6c6" stroke-width="0.8" stroke-linejoin="round"/>
<path d="M329.00,66.30 L330.70,69.36 L327.30,69.36 Z" fill="#8fd6c6"/>
<path d="M334.00,58.30 L335.70,61.36 L332.30,61.36 Z" fill="#8fd6c6"/>
<path d="M340.00,68.30 L341.70,71.36 L338.30,71.36 Z" fill="#8fd6c6"/>
<path d="M354.30,90.90 L356.00,93.96 L352.60,93.96 Z" fill="#8fd6c6"/>
<path d="M362.00,94.30 L363.70,97.36 L360.30,97.36 Z" fill="#8fd6c6"/>
<polyline points="373.50,95.00 378.00,110.00 382.00,166.20" fill="none" stroke="#8fd6c6" stroke-width="0.8" stroke-linejoin="round"/>
<path d="M373.50,93.30 L375.20,96.36 L371.80,96.36 Z" fill="#8fd6c6"/>
<path d="M378.00,108.30 L379.70,111.36 L376.30,111.36 Z" fill="#8fd6c6"/>
<polyline points="376.00,100.00 380.00,140.00 383.00,166.20" fill="none" stroke="#8fd6c6" stroke-width="0.8" stroke-linejoin="round"/>
<path d="M376.00,98.30 L377.70,101.36 L374.30,101.36 Z" fill="#8fd6c6"/>
<path d="M380.00,138.30 L381.70,141.36 L378.30,141.36 Z" fill="#8fd6c6"/>
<polyline points="381.00,100.00 392.50,117.50 398.50,100.50" fill="none" stroke="#8fd6c6" stroke-width="0.8" stroke-linejoin="round"/>
<path d="M381.00,98.30 L382.70,101.36 L379.30,101.36 Z" fill="#8fd6c6"/>
<path d="M392.50,115.80 L394.20,118.86 L390.80,118.86 Z" fill="#8fd6c6"/>
<path d="M398.50,98.80 L400.20,101.86 L396.80,101.86 Z" fill="#8fd6c6"/>
<polyline points="320.00,166.20 328.00,117.00 333.00,70.00 338.00,58.00 344.00,65.80 349.00,48.00 358.50,49.20 366.50,58.30 368.00,60.00" fill="none" stroke="#e6a0d8" stroke-width="0.8" stroke-linejoin="round"/>
<path d="M328.00,115.30 L329.70,118.36 L326.30,118.36 Z" fill="#e6a0d8"/>
<path d="M333.00,68.30 L334.70,71.36 L331.30,71.36 Z" fill="#e6a0d8"/>
<path d="M338.00,56.30 L339.70,59.36 L336.30,59.36 Z" fill="#e6a0d8"/>
<path d="M344.00,64.10 L345.70,67.16 L342.30,67.16 Z" fill="#e6a0d8"/>
<path d="M349.00,46.30 L350.70,49.36 L347.30,49.36 Z" fill="#e6a0d8"/>
<path d="M358.50,47.50 L360.20,50.56 L356.80,50.56 Z" fill="#e6a0d8"/>
<path d="M366.50,56.60 L368.20,59.66 L364.80,59.66 Z" fill="#e6a0d8"/>
<polyline points="373.00,66.80 377.50,57.80 380.50,70.20 382.50,66.20 384.50,82.30 398.50,151.80" fill="none" stroke="#e6a0d8" stroke-width="0.8" stroke-linejoin="round"/>
<path d="M377.50,56.10 L379.20,59.16 L375.80,59.16 Z" fill="#e6a0d8"/>
<path d="M380.50,68.50 L382.20,71.56 L378.80,71.56 Z" fill="#e6a0d8"/>
<path d="M382.50,64.50 L384.20,67.56 L380.80,67.56 Z" fill="#e6a0d8"/>
<path d="M384.50,80.60 L386.20,83.66 L382.80,83.66 Z" fill="#e6a0d8"/>
<path d="M398.50,150.10 L400.20,153.16 L396.80,153.16 Z" fill="#e6a0d8"/>
<polyline points="320.00,166.20 326.60,121.70 335.20,37.70 340.80,65.40 343.50,86.30 350.80,101.30 367.50,108.30" fill="none" stroke="#8c7c2c" stroke-width="0.8" stroke-linejoin="round"/>
<path d="M326.60,120.00 L328.30,123.06 L324.90,123.06 Z" fill="#8c7c2c"/>
<path d="M335.20,36.00 L336.90,39.06 L333.50,39.06 Z" fill="#8c7c2c"/>
<path d="M340.80,63.70 L342.50,66.76 L339.10,66.76 Z" fill="#8c7c2c"/>
<path d="M343.50,84.60 L345.20,87.66 L341.80,87.66 Z" fill="#8c7c2c"/>
<path d="M350.80,99.60 L352.50,102.66 L349.10,102.66 Z" fill="#8c7c2c"/>
<polyline points="373.50,110.50 385.00,166.20" fill="none" stroke="#8c7c2c" stroke-width="0.8" stroke-linejoin="round"/>
<path d="M373.50,108.80 L375.20,111.86 L371.80,111.86 Z" fill="#8c7c2c"/>
<polyline points="320.00,166.20 327.00,100.00 330.90,36.20 336.40,48.50 350.80,60.00 362.00,76.70 367.50,80.80" fill="none" stroke="#a838b4" stroke-width="0.8" stroke-linejoin="round"/>
<path d="M327.00,98.30 L328.70,101.36 L325.30,101.36 Z" fill="#a838b4"/>
<path d="M330.90,34.50 L332.60,37.56 L329.20,37.56 Z" fill="#a838b4"/>
<path d="M336.40,46.80 L338.10,49.86 L334.70,49.86 Z" fill="#a838b4"/>
<path d="M350.80,58.30 L352.50,61.36 L349.10,61.36 Z" fill="#a838b4"/>
<path d="M362.00,75.00 L363.70,78.06 L360.30,78.06 Z" fill="#a838b4"/>
<polyline points="373.50,90.40 382.00,81.20 386.00,86.10 392.50,103.80 398.00,79.90 402.00,96.40 411.50,95.10 415.50,113.50 419.50,103.80" fill="none" stroke="#a838b4" stroke-width="0.8" stroke-linejoin="round"/>
<path d="M373.50,88.70 L375.20,91.76 L371.80,91.76 Z" fill="#a838b4"/>
<path d="M382.00,79.50 L383.70,82.56 L380.30,82.56 Z" fill="#a838b4"/>
<path d="M386.00,84.40 L387.70,87.46 L384.30,87.46 Z" fill="#a838b4"/>
<path d="M392.50,102.10 L394.20,105.16 L390.80,105.16 Z" fill="#a838b4"/>
<path d="M398.00,78.20 L399.70,81.26 L396.30,81.26 Z" fill="#a838b4"/>
<path d="M402.00,94.70 L403.70,97.76 L400.30,97.76 Z" fill="#a838b4"/>
<path d="M411.50,93.40 L413.20,96.46 L409.80,96.46 Z" fill="#a838b4"/>
<path d="M415.50,111.80 L417.20,114.86 L413.80,114.86 Z" fill="#a838b4"/>
<polyline points="425.00,91.90 433.60,71.50 450.00,88.90 470.80,101.80" fill="none" stroke="#a838b4" stroke-width="0.8" stroke-linejoin="round"/>
<path d="M433.60,69.80 L435.30,72.86 L431.90,72.86 Z" fill="#a838b4"/>
<path d="M450.00,87.20 L451.70,90.26 L448.30,90.26 Z" fill="#a838b4"/>
<polyline points="373.50,112.00 383.00,166.20" fill="none" stroke="#a838b4" stroke-width="0.8" stroke-linejoin="round"/>
<path d="M373.50,110.30 L375.20,113.36 L371.80,113.36 Z" fill="#a838b4"/>
<polyline points="319.00,166.20 329.00,75.00 330.90,40.00 334.00,60.00 344.80,65.60 350.40,75.10 360.00,85.00 367.50,88.00" fill="none" stroke="#b040c0" stroke-width="0.8" stroke-linejoin="round"/>
<path d="M329.00,73.30 L330.70,76.36 L327.30,76.36 Z" fill="#b040c0"/>
<path d="M330.90,38.30 L332.60,41.36 L329.20,41.36 Z" fill="#b040c0"/>
<path d="M334.00,58.30 L335.70,61.36 L332.30,61.36 Z" fill="#b040c0"/>
<path d="M344.80,63.90 L346.50,66.96 L343.10,66.96 Z" fill="#b040c0"/>
<path d="M350.40,73.40 L352.10,76.46 L348.70,76.46 Z" fill="#b040c0"/>
<path d="M360.00,83.30 L361.70,86.36 L358.30,86.36 Z" fill="#b040c0"/>
<polyline points="319.00,166.20 328.00,100.00 333.00,80.00 335.10,86.30 340.00,72.00 342.30,55.00 352.00,72.00 360.00,95.00 367.50,93.30" fill="none" stroke="#2c4cc4" stroke-width="0.8" stroke-linejoin="round"/>
<path d="M328.00,98.30 L329.70,101.36 L326.30,101.36 Z" fill="#2c4cc4"/>
<path d="M333.00,78.30 L334.70,81.36 L331.30,81.36 Z" fill="#2c4cc4"/>
<path d="M335.10,84.60 L336.80,87.66 L333.40,87.66 Z" fill="#2c4cc4"/>
<path d="M340.00,70.30 L341.70,73.36 L338.30,73.36 Z" fill="#2c4cc4"/>
<path d="M342.30,53.30 L344.00,56.36 L340.60,56.36 Z" fill="#2c4cc4"/>
<path d="M352.00,70.30 L353.70,73.36 L350.30,73.36 Z" fill="#2c4cc4"/>
<path d="M360.00,93.30 L361.70,96.36 L358.30,96.36 Z" fill="#2c4cc4"/>
<polyline points="374.00,91.70 386.00,90.40 400.00,92.00 408.00,90.10 415.00,85.70 415.50,92.00 419.50,92.50" fill="none" stroke="#2c4cc4" stroke-width="0.8" stroke-linejoin="round"/>
<path d="M374.00,90.00 L375.70,93.06 L372.30,93.06 Z" fill="#2c4cc4"/>
<path d="M386.00,88.70 L387.70,91.76 L384.30,91.76 Z" fill="#2c4cc4"/>
<path d="M400.00,90.30 L401.70,93.36 L398.30,93.36 Z" fill="#2c4cc4"/>
<path d="M408.00,88.40 L409.70,91.46 L406.30,91.46 Z" fill="#2c4cc4"/>
<path d="M415.00,84.00 L416.70,87.06 L413.30,87.06 Z" fill="#2c4cc4"/>
<path d="M415.50,90.30 L417.20,93.36 L413.80,93.36 Z" fill="#2c4cc4"/>
<polyline points="425.00,94.60 459.20,106.40" fill="none" stroke="#2c4cc4" stroke-width="0.8" stroke-linejoin="round"/>
<path d="M459.20,104.70 L460.90,107.76 L457.50,107.76 Z" fill="#2c4cc4"/>
<polyline points="319.00,166.20 331.00,101.50 336.80,52.70 346.00,63.80 352.00,75.00 356.00,95.00 360.50,126.20 367.50,103.10" fill="none" stroke="#b42a2a" stroke-width="0.8" stroke-linejoin="round"/>
<path d="M331.00,99.80 L332.70,102.86 L329.30,102.86 Z" fill="#b42a2a"/>
<path d="M336.80,51.00 L338.50,54.06 L335.10,54.06 Z" fill="#b42a2a"/>
<path d="M346.00,62.10 L347.70,65.16 L344.30,65.16 Z" fill="#b42a2a"/>
<path d="M352.00,73.30 L353.70,76.36 L350.30,76.36 Z" fill="#b42a2a"/>
<path d="M356.00,93.30 L357.70,96.36 L354.30,96.36 Z" fill="#b42a2a"/>
<path d="M360.50,124.50 L362.20,127.56 L358.80,127.56 Z" fill="#b42a2a"/>
<polyline points="374.00,85.70 383.50,101.80 408.00,126.20 420.00,147.80" fill="none" stroke="#b42a2a" stroke-width="0.8" stroke-linejoin="round"/>
<path d="M374.00,84.00 L375.70,87.06 L372.30,87.06 Z" fill="#b42a2a"/>
<path d="M383.50,100.10 L385.20,103.16 L381.80,103.16 Z" fill="#b42a2a"/>
<path d="M408.00,124.50 L409.70,127.56 L406.30,127.56 Z" fill="#b42a2a"/>
<polyline points="425.00,157.70 429.50,166.20" fill="none" stroke="#b42a2a" stroke-width="0.8" stroke-linejoin="round"/>
<polyline points="319.00,166.20 326.00,120.00 332.00,62.00 336.00,70.00 340.60,88.50 345.00,75.00 354.70,104.50 365.00,100.50 367.50,101.30" fill="none" stroke="#f47c1c" stroke-width="0.8" stroke-linejoin="round"/>
<path d="M326.00,118.30 L327.70,121.36 L324.30,121.36 Z" fill="#f47c1c"/>
<path d="M332.00,60.30 L333.70,63.36 L330.30,63.36 Z" fill="#f47c1c"/>
<path d="M336.00,68.30 L337.70,71.36 L334.30,71.36 Z" fill="#f47c1c"/>
<path d="M340.60,86.80 L342.30,89.86 L338.90,89.86 Z" fill="#f47c1c"/>
<path d="M345.00,73.30 L346.70,76.36 L343.30,76.36 Z" fill="#f47c1c"/>
<path d="M354.70,102.80 L356.40,105.86 L353.00,105.86 Z" fill="#f47c1c"/>
<path d="M365.00,98.80 L366.70,101.86 L363.30,101.86 Z" fill="#f47c1c"/>
<polyline points="374.00,105.20 381.00,81.90 388.50,84.30 398.00,123.60 414.50,100.70 419.50,99.80" fill="none" stroke="#f47c1c" stroke-width="0.8" stroke-linejoin="round"/>
<path d="M374.00,103.50 L375.70,106.56 L372.30,106.56 Z" fill="#f47c1c"/>
<path d="M381.00,80.20 L382.70,83.26 L379.30,83.26 Z" fill="#f47c1c"/>
<path d="M388.50,82.60 L390.20,85.66 L386.80,85.66 Z" fill="#f47c1c"/>
<path d="M398.00,121.90 L399.70,124.96 L396.30,124.96 Z" fill="#f47c1c"/>
<path d="M414.50,99.00 L416.20,102.06 L412.80,102.06 Z" fill="#f47c1c"/>
<polyline points="425.00,99.10 430.20,98.30 440.50,109.90 450.20,104.10 458.70,166.20" fill="none" stroke="#f47c1c" stroke-width="0.8" stroke-linejoin="round"/>
<path d="M430.20,96.60 L431.90,99.66 L428.50,99.66 Z" fill="#f47c1c"/>
<path d="M440.50,108.20 L442.20,111.26 L438.80,111.26 Z" fill="#f47c1c"/>
<path d="M450.20,102.40 L451.90,105.46 L448.50,105.46 Z" fill="#f47c1c"/>
<polyline points="319.00,166.20 327.00,80.00 332.00,58.00 337.00,62.00 343.50,86.30 349.10,104.00 360.50,133.70 367.50,137.10" fill="none" stroke="#52c444" stroke-width="0.8" stroke-linejoin="round"/>
<path d="M327.00,78.30 L328.70,81.36 L325.30,81.36 Z" fill="#52c444"/>
<path d="M332.00,56.30 L333.70,59.36 L330.30,59.36 Z" fill="#52c444"/>
<path d="M337.00,60.30 L338.70,63.36 L335.30,63.36 Z" fill="#52c444"/>
<path d="M343.50,84.60 L345.20,87.66 L341.80,87.66 Z" fill="#52c444"/>
<path d="M349.10,102.30 L350.80,105.36 L347.40,105.36 Z" fill="#52c444"/>
<path d="M360.50,132.00 L362.20,135.06 L358.80,135.06 Z" fill="#52c444"/>
<polyline points="374.00,141.00 378.00,141.70 382.00,166.20" fill="none" stroke="#52c444" stroke-width="0.8" stroke-linejoin="round"/>
<path d="M374.00,139.30 L375.70,142.36 L372.30,142.36 Z" fill="#52c444"/>
<path d="M378.00,140.00 L379.70,143.06 L376.30,143.06 Z" fill="#52c444"/>
<polyline points="319.00,166.20 324.90,99.70 330.00,60.00 334.00,70.00 339.20,82.90 343.00,82.00 363.30,66.90 368.00,72.70" fill="none" stroke="#1e6a2a" stroke-width="0.8" stroke-linejoin="round"/>
<path d="M324.90,98.00 L326.60,101.06 L323.20,101.06 Z" fill="#1e6a2a"/>
<path d="M330.00,58.30 L331.70,61.36 L328.30,61.36 Z" fill="#1e6a2a"/>
<path d="M334.00,68.30 L335.70,71.36 L332.30,71.36 Z" fill="#1e6a2a"/>
<path d="M339.20,81.20 L340.90,84.26 L337.50,84.26 Z" fill="#1e6a2a"/>
<path d="M343.00,80.30 L344.70,83.36 L341.30,83.36 Z" fill="#1e6a2a"/>
<path d="M363.30,65.20 L365.00,68.26 L361.60,68.26 Z" fill="#1e6a2a"/>
<polyline points="374.00,81.60 380.50,103.80 388.00,105.50 392.50,110.60 418.00,133.60" fill="none" stroke="#1e6a2a" stroke-width="0.8" stroke-linejoin="round"/>
<path d="M374.00,79.90 L375.70,82.96 L372.30,82.96 Z" fill="#1e6a2a"/>
<path d="M380.50,102.10 L382.20,105.16 L378.80,105.16 Z" fill="#1e6a2a"/>
<path d="M388.00,103.80 L389.70,106.86 L386.30,106.86 Z" fill="#1e6a2a"/>
<path d="M392.50,108.90 L394.20,111.96 L390.80,111.96 Z" fill="#1e6a2a"/>
<path d="M418.00,131.90 L419.70,134.96 L416.30,134.96 Z" fill="#1e6a2a"/>
<polyline points="425.00,126.20 432.60,119.30 462.00,115.00" fill="none" stroke="#1e6a2a" stroke-width="0.8" stroke-linejoin="round"/>
<path d="M432.60,117.60 L434.30,120.66 L430.90,120.66 Z" fill="#1e6a2a"/>
<path d="M462.00,113.30 L463.70,116.36 L460.30,116.36 Z" fill="#1e6a2a"/>
<path d="M382.00,164.10 L383.50,166.80 L380.50,166.80 Z" fill="#52c444"/>
<path d="M385.00,164.10 L386.50,166.80 L383.50,166.80 Z" fill="#8c7c2c"/>
<path d="M383.50,164.10 L385.00,166.80 L382.00,166.80 Z" fill="#a838b4"/>
<path d="M395.00,164.10 L396.50,166.80 L393.50,166.80 Z" fill="#b040c0"/>
<path d="M404.00,164.10 L405.50,166.80 L402.50,166.80 Z" fill="#8c7c2c"/>
<path d="M429.50,164.10 L431.00,166.80 L428.00,166.80 Z" fill="#b42a2a"/>
<path d="M458.70,164.10 L460.20,166.80 L457.20,166.80 Z" fill="#f47c1c"/>
<path d="M467.00,164.10 L468.50,166.80 L465.50,166.80 Z" fill="#f47c1c"/>
<path d="M438.00,164.10 L439.50,166.80 L436.50,166.80 Z" fill="#8c7c2c"/>
<line x1="85.80" y1="240.90" x2="85.80" y2="329.50" stroke="#000" stroke-width="1.4"/>
<line x1="83.80" y1="329.50" x2="87.80" y2="329.50" stroke="#000" stroke-width="1.2"/>
<line x1="85.80" y1="335.40" x2="85.80" y2="382.40" stroke="#000" stroke-width="1.4"/>
<line x1="84.00" y1="335.40" x2="88.00" y2="335.40" stroke="#000" stroke-width="1.2"/>
<line x1="82.40" y1="241.60" x2="85.80" y2="241.60" stroke="#000" stroke-width="1.1"/>
<text x="62.05" y="245.30" font-size="10.40" textLength="18.84" lengthAdjust="spacingAndGlyphs" stroke="#000" stroke-width="0.14">150</text>
<line x1="82.40" y1="275.00" x2="85.80" y2="275.00" stroke="#000" stroke-width="1.1"/>
<text x="62.05" y="278.70" font-size="10.40" textLength="18.84" lengthAdjust="spacingAndGlyphs" stroke="#000" stroke-width="0.14">100</text>
<line x1="82.40" y1="307.80" x2="85.80" y2="307.80" stroke="#000" stroke-width="1.1"/>
<text x="67.73" y="311.50" font-size="10.40" textLength="13.18" lengthAdjust="spacingAndGlyphs" stroke="#000" stroke-width="0.14">50</text>
<line x1="82.40" y1="350.75" x2="85.80" y2="350.75" stroke="#000" stroke-width="1.1"/>
<text x="68.68" y="354.45" font-size="10.40" textLength="12.19" lengthAdjust="spacingAndGlyphs" stroke="#000" stroke-width="0.14">10</text>
<line x1="82.40" y1="366.40" x2="85.80" y2="366.40" stroke="#000" stroke-width="1.1"/>
<text x="74.33" y="370.10" font-size="10.40" textLength="6.56" lengthAdjust="spacingAndGlyphs" stroke="#000" stroke-width="0.14">5</text>
<line x1="82.40" y1="381.80" x2="85.80" y2="381.80" stroke="#000" stroke-width="1.1"/>
<text x="74.33" y="385.50" font-size="10.40" textLength="6.56" lengthAdjust="spacingAndGlyphs" stroke="#000" stroke-width="0.14">0</text>
<text x="68.88" y="339.30" font-size="10.40" textLength="12.19" lengthAdjust="spacingAndGlyphs" stroke="#000" stroke-width="0.14">15</text>
<line x1="85.10" y1="381.80" x2="472.70" y2="381.80" stroke="#000" stroke-width="1.4"/>
<line x1="97.50" y1="381.80" x2="97.50" y2="384.40" stroke="#000" stroke-width="1.0"/>
<text x="91.54" y="396.80" font-size="10.60" textLength="12.74" lengthAdjust="spacingAndGlyphs" stroke="#000" stroke-width="0.14">18</text>
<line x1="115.72" y1="381.80" x2="115.72" y2="384.40" stroke="#000" stroke-width="1.0"/>
<text x="109.28" y="396.80" font-size="10.60" textLength="12.21" lengthAdjust="spacingAndGlyphs" stroke="#000" stroke-width="0.14">01</text>
<line x1="133.94" y1="381.80" x2="133.94" y2="384.40" stroke="#000" stroke-width="1.0"/>
<text x="127.50" y="396.80" font-size="10.60" textLength="12.21" lengthAdjust="spacingAndGlyphs" stroke="#000" stroke-width="0.14">07</text>
<line x1="152.16" y1="381.80" x2="152.16" y2="384.40" stroke="#000" stroke-width="1.0"/>
<text x="146.12" y="396.80" font-size="10.60" textLength="13.01" lengthAdjust="spacingAndGlyphs" stroke="#000" stroke-width="0.14">11</text>
<line x1="170.38" y1="381.80" x2="170.38" y2="384.40" stroke="#000" stroke-width="1.0"/>
<text x="163.94" y="396.80" font-size="10.60" textLength="12.15" lengthAdjust="spacingAndGlyphs" stroke="#000" stroke-width="0.14">03</text>
<line x1="188.60" y1="381.80" x2="188.60" y2="384.40" stroke="#000" stroke-width="1.0"/>
<text x="182.64" y="396.80" font-size="10.60" textLength="12.81" lengthAdjust="spacingAndGlyphs" stroke="#000" stroke-width="0.14">19</text>
<line x1="206.82" y1="381.80" x2="206.82" y2="384.40" stroke="#000" stroke-width="1.0"/>
<text x="200.39" y="396.80" font-size="10.60" textLength="11.98" lengthAdjust="spacingAndGlyphs" stroke="#000" stroke-width="0.14">04</text>
<line x1="225.04" y1="381.80" x2="225.04" y2="384.40" stroke="#000" stroke-width="1.0"/>
<text x="219.08" y="396.80" font-size="10.60" textLength="12.81" lengthAdjust="spacingAndGlyphs" stroke="#000" stroke-width="0.14">13</text>
<line x1="243.26" y1="381.80" x2="243.26" y2="384.40" stroke="#000" stroke-width="1.0"/>
<text x="236.83" y="396.80" font-size="10.60" textLength="12.10" lengthAdjust="spacingAndGlyphs" stroke="#000" stroke-width="0.14">05</text>
<line x1="261.48" y1="381.80" x2="261.48" y2="384.40" stroke="#000" stroke-width="1.0"/>
<text x="255.52" y="396.80" font-size="10.60" textLength="12.74" lengthAdjust="spacingAndGlyphs" stroke="#000" stroke-width="0.14">10</text>
<line x1="279.70" y1="381.80" x2="279.70" y2="384.40" stroke="#000" stroke-width="1.0"/>
<text x="273.26" y="396.80" font-size="10.60" textLength="12.15" lengthAdjust="spacingAndGlyphs" stroke="#000" stroke-width="0.14">09</text>
<line x1="297.92" y1="381.80" x2="297.92" y2="384.40" stroke="#000" stroke-width="1.0"/>
<text x="291.49" y="396.80" font-size="10.60" textLength="12.10" lengthAdjust="spacingAndGlyphs" stroke="#000" stroke-width="0.14">08</text>
<line x1="316.14" y1="381.80" x2="316.14" y2="384.40" stroke="#000" stroke-width="1.0"/>
<text x="309.70" y="396.80" font-size="10.60" textLength="12.15" lengthAdjust="spacingAndGlyphs" stroke="#000" stroke-width="0.14">06</text>
<line x1="334.36" y1="381.80" x2="334.36" y2="384.40" stroke="#000" stroke-width="1.0"/>
<text x="328.39" y="396.80" font-size="10.60" textLength="12.87" lengthAdjust="spacingAndGlyphs" stroke="#000" stroke-width="0.14">12</text>
<line x1="352.58" y1="381.80" x2="352.58" y2="384.40" stroke="#000" stroke-width="1.0"/>
<text x="346.03" y="396.80" font-size="10.60" textLength="12.33" lengthAdjust="spacingAndGlyphs" stroke="#000" stroke-width="0.14">21</text>
<line x1="370.80" y1="381.80" x2="370.80" y2="384.40" stroke="#000" stroke-width="1.0"/>
<text x="364.84" y="396.80" font-size="10.60" textLength="12.74" lengthAdjust="spacingAndGlyphs" stroke="#000" stroke-width="0.14">15</text>
<line x1="389.02" y1="381.80" x2="389.02" y2="384.40" stroke="#000" stroke-width="1.0"/>
<text x="382.58" y="396.80" font-size="10.60" textLength="12.21" lengthAdjust="spacingAndGlyphs" stroke="#000" stroke-width="0.14">02</text>
<line x1="407.24" y1="381.80" x2="407.24" y2="384.40" stroke="#000" stroke-width="1.0"/>
<text x="400.69" y="396.80" font-size="10.60" textLength="12.21" lengthAdjust="spacingAndGlyphs" stroke="#000" stroke-width="0.14">20</text>
<line x1="425.46" y1="381.80" x2="425.46" y2="384.40" stroke="#000" stroke-width="1.0"/>
<text x="419.51" y="396.80" font-size="10.60" textLength="12.62" lengthAdjust="spacingAndGlyphs" stroke="#000" stroke-width="0.14">14</text>
<line x1="443.68" y1="381.80" x2="443.68" y2="384.40" stroke="#000" stroke-width="1.0"/>
<text x="437.71" y="396.80" font-size="10.60" textLength="12.87" lengthAdjust="spacingAndGlyphs" stroke="#000" stroke-width="0.14">17</text>
<line x1="461.90" y1="381.80" x2="461.90" y2="384.40" stroke="#000" stroke-width="1.0"/>
<text x="455.94" y="396.80" font-size="10.60" textLength="12.81" lengthAdjust="spacingAndGlyphs" stroke="#000" stroke-width="0.14">16</text>
<rect x="91.40" y="380.90" width="12.20" height="0.90" fill="#000"/>
<rect x="109.62" y="380.10" width="12.20" height="1.70" fill="#000"/>
<rect x="127.84" y="373.70" width="12.20" height="8.10" fill="#000"/>
<rect x="146.06" y="372.80" width="12.20" height="9.00" fill="#000"/>
<rect x="164.28" y="372.20" width="12.20" height="9.60" fill="#000"/>
<rect x="182.50" y="366.20" width="12.20" height="15.60" fill="#000"/>
<rect x="200.72" y="363.00" width="12.20" height="18.80" fill="#000"/>
<rect x="218.94" y="362.30" width="12.20" height="19.50" fill="#a6a6a6"/>
<path d="M219.94,381.80 L219.94,363.30 L230.14,363.30 L230.14,381.80" fill="none" stroke="#e0157f" stroke-width="2.0"/>
<rect x="237.16" y="351.20" width="12.20" height="30.60" fill="#000"/>
<path d="M238.16,381.80 L238.16,352.20 L248.36,352.20 L248.36,381.80" fill="none" stroke="#3cb84a" stroke-width="2.0"/>
<rect x="255.38" y="343.40" width="12.20" height="38.40" fill="#a6a6a6"/>
<path d="M256.38,381.80 L256.38,344.40 L266.58,344.40 L266.58,381.80" fill="none" stroke="#8a84c4" stroke-width="2.0"/>
<rect x="273.60" y="335.40" width="12.20" height="46.40" fill="#fff"/>
<line x1="274.60" y1="335.40" x2="274.60" y2="381.80" stroke="#3cb84a" stroke-width="2.0"/>
<line x1="284.80" y1="335.40" x2="284.80" y2="381.80" stroke="#3cb84a" stroke-width="2.0"/>
<rect x="273.60" y="328.75" width="12.20" height="0.75" fill="#fff"/>
<line x1="273.60" y1="329.50" x2="285.80" y2="329.50" stroke="#7fd080" stroke-width="1.5"/>
<line x1="274.60" y1="330.25" x2="274.60" y2="329.50" stroke="#3cb84a" stroke-width="2.0"/>
<line x1="284.80" y1="330.25" x2="284.80" y2="329.50" stroke="#3cb84a" stroke-width="2.0"/>
<rect x="291.82" y="335.40" width="12.20" height="46.40" fill="#000"/>
<rect x="291.82" y="325.80" width="12.20" height="3.70" fill="#000"/>
<rect x="310.04" y="335.40" width="12.20" height="46.40" fill="#fff"/>
<line x1="311.04" y1="335.40" x2="311.04" y2="381.80" stroke="#f48a1e" stroke-width="2.0"/>
<line x1="321.24" y1="335.40" x2="321.24" y2="381.80" stroke="#f48a1e" stroke-width="2.0"/>
<rect x="310.04" y="325.80" width="12.20" height="3.70" fill="#fff"/>
<path d="M311.04,329.50 L311.04,326.80 L321.24,326.80 L321.24,329.50" fill="none" stroke="#f48a1e" stroke-width="2.0"/>
<rect x="328.26" y="335.40" width="12.20" height="46.40" fill="#fff"/>
<line x1="329.26" y1="335.40" x2="329.26" y2="381.80" stroke="#1f4f8c" stroke-width="2.0"/>
<line x1="339.46" y1="335.40" x2="339.46" y2="381.80" stroke="#1f4f8c" stroke-width="2.0"/>
<rect x="328.26" y="324.30" width="12.20" height="5.20" fill="#fff"/>
<path d="M329.26,329.50 L329.26,325.30 L339.46,325.30 L339.46,329.50" fill="none" stroke="#1f4f8c" stroke-width="2.0"/>
<rect x="346.48" y="335.40" width="12.20" height="46.40" fill="#fff"/>
<line x1="347.03" y1="335.40" x2="347.03" y2="381.80" stroke="#000" stroke-width="1.1"/>
<line x1="358.13" y1="335.40" x2="358.13" y2="381.80" stroke="#000" stroke-width="1.1"/>
<rect x="346.48" y="321.90" width="12.20" height="7.60" fill="#fff"/>
<path d="M347.03,329.50 L347.03,322.45 L358.13,322.45 L358.13,329.50" fill="none" stroke="#000" stroke-width="1.1"/>
<rect x="364.70" y="335.40" width="12.20" height="46.40" fill="#fff"/>
<line x1="365.25" y1="335.40" x2="365.25" y2="381.80" stroke="#000" stroke-width="1.1"/>
<line x1="376.35" y1="335.40" x2="376.35" y2="381.80" stroke="#000" stroke-width="1.1"/>
<rect x="364.70" y="319.20" width="12.20" height="10.30" fill="#fff"/>
<path d="M365.25,329.50 L365.25,319.75 L376.35,319.75 L376.35,329.50" fill="none" stroke="#000" stroke-width="1.1"/>
<rect x="382.92" y="335.40" width="12.20" height="46.40" fill="#000"/>
<rect x="382.92" y="312.60" width="12.20" height="16.90" fill="#000"/>
<rect x="401.14" y="335.40" width="12.20" height="46.40" fill="#a6a6a6"/>
<line x1="402.14" y1="335.40" x2="402.14" y2="381.80" stroke="#8a84c4" stroke-width="2.0"/>
<line x1="412.34" y1="335.40" x2="412.34" y2="381.80" stroke="#8a84c4" stroke-width="2.0"/>
<rect x="401.14" y="310.50" width="12.20" height="19.00" fill="#a6a6a6"/>
<path d="M402.14,329.50 L402.14,311.50 L412.34,311.50 L412.34,329.50" fill="none" stroke="#8a84c4" stroke-width="2.0"/>
<rect x="419.36" y="335.40" width="12.20" height="46.40" fill="#fff"/>
<line x1="419.91" y1="335.40" x2="419.91" y2="381.80" stroke="#000" stroke-width="1.1"/>
<line x1="431.01" y1="335.40" x2="431.01" y2="381.80" stroke="#000" stroke-width="1.1"/>
<rect x="419.36" y="290.10" width="12.20" height="39.40" fill="#fff"/>
<path d="M419.91,329.50 L419.91,290.65 L431.01,290.65 L431.01,329.50" fill="none" stroke="#000" stroke-width="1.1"/>
<rect x="437.58" y="335.40" width="12.20" height="46.40" fill="#fff"/>
<line x1="438.13" y1="335.40" x2="438.13" y2="381.80" stroke="#000" stroke-width="1.1"/>
<line x1="449.23" y1="335.40" x2="449.23" y2="381.80" stroke="#000" stroke-width="1.1"/>
<rect x="437.58" y="266.00" width="12.20" height="63.50" fill="#fff"/>
<path d="M438.13,329.50 L438.13,266.55 L449.23,266.55 L449.23,329.50" fill="none" stroke="#000" stroke-width="1.1"/>
<rect x="455.80" y="335.40" width="12.20" height="46.40" fill="#fff"/>
<line x1="456.80" y1="335.40" x2="456.80" y2="381.80" stroke="#e0157f" stroke-width="2.0"/>
<line x1="467.00" y1="335.40" x2="467.00" y2="381.80" stroke="#e0157f" stroke-width="2.0"/>
<rect x="455.80" y="254.60" width="12.20" height="74.90" fill="#fff"/>
<path d="M456.80,329.50 L456.80,255.60 L467.00,255.60 L467.00,329.50" fill="none" stroke="#e0157f" stroke-width="2.0"/>
<line x1="270.80" y1="241.90" x2="270.80" y2="381.80" stroke="#777" stroke-width="1.5"/>
<text x="275.77" y="323.90" font-size="10.00" textLength="6.02" lengthAdjust="spacingAndGlyphs">X</text>
<text x="57.40" y="346.93" font-size="13.40" textLength="62.42" lengthAdjust="spacingAndGlyphs" transform="rotate(-90 57.40 346.93)" stroke="#000" stroke-width="0.3">Peak axi-cel/μL</text>
<text x="256.92" y="412.70" font-size="12.20" textLength="38.25" lengthAdjust="spacingAndGlyphs" stroke="#000" stroke-width="0.3">Patient #</text>
<text x="100.59" y="248.50" font-size="9.60" textLength="5.59" lengthAdjust="spacingAndGlyphs">X</text>
<text x="108.83" y="248.50" font-size="9.60" textLength="54.98" lengthAdjust="spacingAndGlyphs">Median peak</text>
<rect x="99.60" y="259.30" width="7.40" height="7.20" fill="#000"/>
<text x="110.81" y="267.00" font-size="9.60" textLength="44.57" lengthAdjust="spacingAndGlyphs">Deceased</text>
<rect x="99.60" y="277.30" width="7.40" height="7.20" fill="#a8a8a8"/>
<text x="110.81" y="285.00" font-size="9.60" textLength="58.46" lengthAdjust="spacingAndGlyphs">Relapsed/PD</text>
<rect x="100.35" y="295.00" width="5.90" height="6.40" fill="#fff" stroke="#000" stroke-width="1.5"/>
<text x="111.55" y="301.90" font-size="9.60" textLength="20.50" lengthAdjust="spacingAndGlyphs">Alive</text>
<line x1="72.10" y1="441.90" x2="72.10" y2="558.90" stroke="#000" stroke-width="1.3"/>
<line x1="69.70" y1="446.90" x2="72.10" y2="446.90" stroke="#000" stroke-width="1.0"/>
<text x="52.98" y="450.10" font-size="10.00" textLength="15.16" lengthAdjust="spacingAndGlyphs" stroke="#000" stroke-width="0.14">1.0</text>
<line x1="69.70" y1="468.00" x2="72.10" y2="468.00" stroke="#000" stroke-width="1.0"/>
<text x="53.38" y="471.20" font-size="10.00" textLength="14.75" lengthAdjust="spacingAndGlyphs" stroke="#000" stroke-width="0.14">0.8</text>
<line x1="69.70" y1="489.10" x2="72.10" y2="489.10" stroke="#000" stroke-width="1.0"/>
<text x="53.37" y="492.30" font-size="10.00" textLength="14.81" lengthAdjust="spacingAndGlyphs" stroke="#000" stroke-width="0.14">0.6</text>
<line x1="69.70" y1="510.20" x2="72.10" y2="510.20" stroke="#000" stroke-width="1.0"/>
<text x="53.38" y="513.40" font-size="10.00" textLength="14.64" lengthAdjust="spacingAndGlyphs" stroke="#000" stroke-width="0.14">0.4</text>
<line x1="69.70" y1="531.30" x2="72.10" y2="531.30" stroke="#000" stroke-width="1.0"/>
<text x="53.37" y="534.50" font-size="10.00" textLength="14.86" lengthAdjust="spacingAndGlyphs" stroke="#000" stroke-width="0.14">0.2</text>
<line x1="69.70" y1="552.40" x2="72.10" y2="552.40" stroke="#000" stroke-width="1.0"/>
<text x="53.38" y="555.60" font-size="10.00" textLength="14.75" lengthAdjust="spacingAndGlyphs" stroke="#000" stroke-width="0.14">0.0</text>
<line x1="71.45" y1="558.30" x2="244.80" y2="558.30" stroke="#000" stroke-width="1.3"/>
<line x1="244.80" y1="556.70" x2="244.80" y2="559.90" stroke="#000" stroke-width="1.0"/>
<line x1="81.30" y1="556.70" x2="81.30" y2="559.90" stroke="#000" stroke-width="1.0"/>
<text x="77.60" y="571.40" font-size="10.00" textLength="5.62" lengthAdjust="spacingAndGlyphs" stroke="#000" stroke-width="0.14">0</text>
<line x1="114.00" y1="556.70" x2="114.00" y2="559.90" stroke="#000" stroke-width="1.0"/>
<text x="102.96" y="571.40" font-size="10.00" textLength="18.73" lengthAdjust="spacingAndGlyphs" stroke="#000" stroke-width="0.14">100</text>
<line x1="146.70" y1="556.70" x2="146.70" y2="559.90" stroke="#000" stroke-width="1.0"/>
<text x="133.13" y="571.40" font-size="10.00" textLength="19.07" lengthAdjust="spacingAndGlyphs" stroke="#000" stroke-width="0.14">200</text>
<line x1="179.40" y1="556.70" x2="179.40" y2="559.90" stroke="#000" stroke-width="1.0"/>
<text x="164.45" y="571.40" font-size="10.00" textLength="18.95" lengthAdjust="spacingAndGlyphs" stroke="#000" stroke-width="0.14">300</text>
<line x1="212.10" y1="556.70" x2="212.10" y2="559.90" stroke="#000" stroke-width="1.0"/>
<text x="195.22" y="571.40" font-size="10.00" textLength="18.77" lengthAdjust="spacingAndGlyphs" stroke="#000" stroke-width="0.14">400</text>
<line x1="244.80" y1="556.70" x2="244.80" y2="559.90" stroke="#000" stroke-width="1.0"/>
<text x="226.05" y="571.40" font-size="10.00" textLength="18.95" lengthAdjust="spacingAndGlyphs" stroke="#000" stroke-width="0.14">500</text>
<text x="45.00" y="525.73" font-size="12.80" font-weight="bold" textLength="41.79" lengthAdjust="spacingAndGlyphs" transform="rotate(-90 45.00 525.73)" fill="#1a1a1a">Probability</text>
<text x="111.19" y="586.80" font-size="12.40" textLength="72.80" lengthAdjust="spacingAndGlyphs" stroke="#000" stroke-width="0.3">Days post infusion</text>
<polyline points="82.20,446.90 89.30,446.90 89.30,452.00 100.40,452.00 100.40,457.20 101.20,457.20 101.20,462.30 103.20,462.30 103.20,467.40 104.20,467.40 104.20,472.30 112.70,472.30 112.70,477.70 120.40,477.70 120.40,483.40 129.60,483.40 129.60,489.50 136.80,489.50 136.80,495.10 179.80,495.10 179.80,501.20 231.70,501.20" fill="none" stroke="#cc2a4c" stroke-width="1.1" stroke-linejoin="round" stroke-linejoin="miter"/>
<line x1="174.40" y1="493.50" x2="174.40" y2="496.70" stroke="#cc2a4c" stroke-width="1.0"/>
<line x1="198.10" y1="499.60" x2="198.10" y2="502.80" stroke="#cc2a4c" stroke-width="1.0"/>
<line x1="201.80" y1="499.60" x2="201.80" y2="502.80" stroke="#cc2a4c" stroke-width="1.0"/>
<line x1="206.10" y1="499.60" x2="206.10" y2="502.80" stroke="#cc2a4c" stroke-width="1.0"/>
<line x1="219.70" y1="499.60" x2="219.70" y2="502.80" stroke="#cc2a4c" stroke-width="1.0"/>
<line x1="221.50" y1="499.60" x2="221.50" y2="502.80" stroke="#cc2a4c" stroke-width="1.0"/>
<line x1="231.20" y1="499.60" x2="231.20" y2="502.80" stroke="#cc2a4c" stroke-width="1.0"/>
<text x="157.75" y="450.00" font-size="10.20" textLength="14.29" lengthAdjust="spacingAndGlyphs">OS</text>
<line x1="335.40" y1="440.00" x2="335.40" y2="557.90" stroke="#000" stroke-width="1.3"/>
<line x1="333.00" y1="445.80" x2="335.40" y2="445.80" stroke="#000" stroke-width="1.0"/>
<text x="317.18" y="449.00" font-size="10.00" textLength="15.16" lengthAdjust="spacingAndGlyphs" stroke="#000" stroke-width="0.14">1.0</text>
<line x1="333.00" y1="467.00" x2="335.40" y2="467.00" stroke="#000" stroke-width="1.0"/>
<text x="317.58" y="470.20" font-size="10.00" textLength="14.75" lengthAdjust="spacingAndGlyphs" stroke="#000" stroke-width="0.14">0.8</text>
<line x1="333.00" y1="488.20" x2="335.40" y2="488.20" stroke="#000" stroke-width="1.0"/>
<text x="317.57" y="491.40" font-size="10.00" textLength="14.81" lengthAdjust="spacingAndGlyphs" stroke="#000" stroke-width="0.14">0.6</text>
<line x1="333.00" y1="509.40" x2="335.40" y2="509.40" stroke="#000" stroke-width="1.0"/>
<text x="317.58" y="512.60" font-size="10.00" textLength="14.64" lengthAdjust="spacingAndGlyphs" stroke="#000" stroke-width="0.14">0.4</text>
<line x1="333.00" y1="530.60" x2="335.40" y2="530.60" stroke="#000" stroke-width="1.0"/>
<text x="317.57" y="533.80" font-size="10.00" textLength="14.86" lengthAdjust="spacingAndGlyphs" stroke="#000" stroke-width="0.14">0.2</text>
<line x1="333.00" y1="551.80" x2="335.40" y2="551.80" stroke="#000" stroke-width="1.0"/>
<text x="317.58" y="555.00" font-size="10.00" textLength="14.75" lengthAdjust="spacingAndGlyphs" stroke="#000" stroke-width="0.14">0.0</text>
<line x1="334.75" y1="557.30" x2="507.10" y2="557.30" stroke="#000" stroke-width="1.3"/>
<line x1="507.10" y1="555.70" x2="507.10" y2="558.90" stroke="#000" stroke-width="1.0"/>
<line x1="344.30" y1="555.70" x2="344.30" y2="558.90" stroke="#000" stroke-width="1.0"/>
<text x="341.00" y="571.30" font-size="10.00" textLength="5.62" lengthAdjust="spacingAndGlyphs" stroke="#000" stroke-width="0.14">0</text>
<line x1="376.90" y1="555.70" x2="376.90" y2="558.90" stroke="#000" stroke-width="1.0"/>
<text x="366.16" y="571.30" font-size="10.00" textLength="18.73" lengthAdjust="spacingAndGlyphs" stroke="#000" stroke-width="0.14">100</text>
<line x1="409.50" y1="555.70" x2="409.50" y2="558.90" stroke="#000" stroke-width="1.0"/>
<text x="395.93" y="571.30" font-size="10.00" textLength="19.07" lengthAdjust="spacingAndGlyphs" stroke="#000" stroke-width="0.14">200</text>
<line x1="442.10" y1="555.70" x2="442.10" y2="558.90" stroke="#000" stroke-width="1.0"/>
<text x="427.45" y="571.30" font-size="10.00" textLength="18.95" lengthAdjust="spacingAndGlyphs" stroke="#000" stroke-width="0.14">300</text>
<line x1="474.70" y1="555.70" x2="474.70" y2="558.90" stroke="#000" stroke-width="1.0"/>
<text x="458.32" y="571.30" font-size="10.00" textLength="18.77" lengthAdjust="spacingAndGlyphs" stroke="#000" stroke-width="0.14">400</text>
<line x1="507.30" y1="555.70" x2="507.30" y2="558.90" stroke="#000" stroke-width="1.0"/>
<text x="489.45" y="571.30" font-size="10.00" textLength="18.95" lengthAdjust="spacingAndGlyphs" stroke="#000" stroke-width="0.14">500</text>
<text x="307.60" y="525.73" font-size="12.80" font-weight="bold" textLength="41.79" lengthAdjust="spacingAndGlyphs" transform="rotate(-90 307.60 525.73)" fill="#1a1a1a">Probability</text>
<text x="371.49" y="586.70" font-size="12.40" textLength="72.09" lengthAdjust="spacingAndGlyphs" stroke="#000" stroke-width="0.3">Days post infusion</text>
<polyline points="343.80,445.40 348.30,445.40 348.30,450.40 349.40,450.40 349.40,455.70 353.20,455.70 353.20,460.90 356.80,460.90 356.80,465.60 359.20,465.60 359.20,471.00 363.60,471.00 363.60,476.30 364.50,476.30 364.50,481.30 365.00,481.30 365.00,486.40 365.60,486.40 365.60,491.20 369.20,491.20 369.20,496.20 375.30,496.20 375.30,502.10 382.10,502.10 382.10,507.20 397.20,507.20 397.20,513.40 493.80,513.40" fill="none" stroke="#cc2a4c" stroke-width="1.1" stroke-linejoin="round" stroke-linejoin="miter"/>
<line x1="436.70" y1="511.80" x2="436.70" y2="515.00" stroke="#cc2a4c" stroke-width="1.0"/>
<line x1="460.40" y1="511.80" x2="460.40" y2="515.00" stroke="#cc2a4c" stroke-width="1.0"/>
<line x1="464.20" y1="511.80" x2="464.20" y2="515.00" stroke="#cc2a4c" stroke-width="1.0"/>
<line x1="468.50" y1="511.80" x2="468.50" y2="515.00" stroke="#cc2a4c" stroke-width="1.0"/>
<line x1="482.00" y1="511.80" x2="482.00" y2="515.00" stroke="#cc2a4c" stroke-width="1.0"/>
<line x1="484.10" y1="511.80" x2="484.10" y2="515.00" stroke="#cc2a4c" stroke-width="1.0"/>
<line x1="493.30" y1="511.80" x2="493.30" y2="515.00" stroke="#cc2a4c" stroke-width="1.0"/>
<text x="411.69" y="451.20" font-size="10.20" textLength="19.77" lengthAdjust="spacingAndGlyphs">PFS</text>
<line x1="73.10" y1="628.70" x2="73.10" y2="746.40" stroke="#000" stroke-width="1.3"/>
<line x1="70.70" y1="633.70" x2="73.10" y2="633.70" stroke="#000" stroke-width="1.0"/>
<text x="53.18" y="636.90" font-size="10.00" textLength="15.16" lengthAdjust="spacingAndGlyphs" stroke="#000" stroke-width="0.14">1.0</text>
<line x1="70.70" y1="655.00" x2="73.10" y2="655.00" stroke="#000" stroke-width="1.0"/>
<text x="53.58" y="658.20" font-size="10.00" textLength="14.75" lengthAdjust="spacingAndGlyphs" stroke="#000" stroke-width="0.14">0.8</text>
<line x1="70.70" y1="676.30" x2="73.10" y2="676.30" stroke="#000" stroke-width="1.0"/>
<text x="53.57" y="679.50" font-size="10.00" textLength="14.81" lengthAdjust="spacingAndGlyphs" stroke="#000" stroke-width="0.14">0.6</text>
<line x1="70.70" y1="697.60" x2="73.10" y2="697.60" stroke="#000" stroke-width="1.0"/>
<text x="53.58" y="700.80" font-size="10.00" textLength="14.64" lengthAdjust="spacingAndGlyphs" stroke="#000" stroke-width="0.14">0.4</text>
<line x1="70.70" y1="718.90" x2="73.10" y2="718.90" stroke="#000" stroke-width="1.0"/>
<text x="53.57" y="722.10" font-size="10.00" textLength="14.86" lengthAdjust="spacingAndGlyphs" stroke="#000" stroke-width="0.14">0.2</text>
<line x1="70.70" y1="740.20" x2="73.10" y2="740.20" stroke="#000" stroke-width="1.0"/>
<text x="53.58" y="743.40" font-size="10.00" textLength="14.75" lengthAdjust="spacingAndGlyphs" stroke="#000" stroke-width="0.14">0.0</text>
<line x1="72.45" y1="745.80" x2="244.00" y2="745.80" stroke="#000" stroke-width="2.0"/>
<line x1="81.70" y1="745.80" x2="81.70" y2="748.40" stroke="#888" stroke-width="0.8"/>
<text x="78.90" y="759.20" font-size="10.00" textLength="5.62" lengthAdjust="spacingAndGlyphs" stroke="#000" stroke-width="0.14">0</text>
<line x1="112.70" y1="745.80" x2="112.70" y2="748.40" stroke="#888" stroke-width="0.8"/>
<text x="103.96" y="759.20" font-size="10.00" textLength="18.73" lengthAdjust="spacingAndGlyphs" stroke="#000" stroke-width="0.14">100</text>
<line x1="143.70" y1="745.80" x2="143.70" y2="748.40" stroke="#888" stroke-width="0.8"/>
<text x="134.63" y="759.20" font-size="10.00" textLength="19.07" lengthAdjust="spacingAndGlyphs" stroke="#000" stroke-width="0.14">200</text>
<line x1="174.70" y1="745.80" x2="174.70" y2="748.40" stroke="#888" stroke-width="0.8"/>
<text x="164.95" y="759.20" font-size="10.00" textLength="18.95" lengthAdjust="spacingAndGlyphs" stroke="#000" stroke-width="0.14">300</text>
<line x1="205.70" y1="745.80" x2="205.70" y2="748.40" stroke="#888" stroke-width="0.8"/>
<text x="196.12" y="759.20" font-size="10.00" textLength="18.77" lengthAdjust="spacingAndGlyphs" stroke="#000" stroke-width="0.14">400</text>
<line x1="236.70" y1="745.80" x2="236.70" y2="748.40" stroke="#888" stroke-width="0.8"/>
<text x="226.75" y="759.20" font-size="10.00" textLength="18.95" lengthAdjust="spacingAndGlyphs" stroke="#000" stroke-width="0.14">500</text>
<text x="45.80" y="715.92" font-size="12.80" font-weight="bold" textLength="41.58" lengthAdjust="spacingAndGlyphs" transform="rotate(-90 45.80 715.92)" fill="#1a1a1a">Probability</text>
<text x="112.19" y="775.50" font-size="12.40" textLength="72.39" lengthAdjust="spacingAndGlyphs" stroke="#000" stroke-width="0.3">Days post infusion</text>
<polyline points="81.40,633.70 96.20,633.70 96.20,643.50 101.70,643.50 101.70,653.30 117.40,653.30 117.40,663.80 223.00,663.80" fill="none" stroke="#cc2a4c" stroke-width="1.1" stroke-linejoin="round" stroke-linejoin="miter"/>
<polyline points="81.50,633.70 84.60,633.70 84.60,644.20 85.60,644.20 85.60,655.40 89.80,655.40 89.80,665.40 94.00,665.40 94.00,676.40 99.70,676.40 99.70,686.80 100.60,686.80 100.60,697.20 101.30,697.20 101.30,708.50 105.30,708.50 105.30,718.80 111.30,718.80 111.30,729.50 131.60,729.50 131.60,740.00" fill="none" stroke="#3a72aa" stroke-width="1.1" stroke-linejoin="round" stroke-linejoin="miter"/>
<text x="127.36" y="659.50" font-size="10.40" textLength="76.57" lengthAdjust="spacingAndGlyphs">Strong expanders</text>
<text x="122.45" y="724.20" font-size="10.40" textLength="71.29" lengthAdjust="spacingAndGlyphs">Weak expanders</text>
<text x="178.50" y="690.80" font-size="10.40" font-style="italic" textLength="6.56" lengthAdjust="spacingAndGlyphs">P</text>
<path d="M194.2,684.1 L187.9,687.25 L194.2,690.4" fill="none" stroke="#000" stroke-width="1.0" stroke-linejoin="miter"/>
<text x="195.58" y="690.80" font-size="10.40" textLength="26.06" lengthAdjust="spacingAndGlyphs">0.001</text>
<line x1="342.30" y1="636.50" x2="342.30" y2="753.80" stroke="#000" stroke-width="1.3"/>
<line x1="339.90" y1="637.00" x2="342.30" y2="637.00" stroke="#000" stroke-width="1.0"/>
<text x="319.35" y="640.60" font-size="10.00" textLength="18.84" lengthAdjust="spacingAndGlyphs" stroke="#000" stroke-width="0.14">150</text>
<line x1="339.90" y1="675.70" x2="342.30" y2="675.70" stroke="#000" stroke-width="1.0"/>
<text x="319.35" y="679.30" font-size="10.00" textLength="18.84" lengthAdjust="spacingAndGlyphs" stroke="#000" stroke-width="0.14">100</text>
<line x1="339.90" y1="714.40" x2="342.30" y2="714.40" stroke="#000" stroke-width="1.0"/>
<text x="325.03" y="718.00" font-size="10.00" textLength="13.18" lengthAdjust="spacingAndGlyphs" stroke="#000" stroke-width="0.14">50</text>
<line x1="339.90" y1="753.10" x2="342.30" y2="753.10" stroke="#000" stroke-width="1.0"/>
<text x="331.63" y="756.70" font-size="10.00" textLength="6.56" lengthAdjust="spacingAndGlyphs" stroke="#000" stroke-width="0.14">0</text>
<line x1="341.65" y1="753.10" x2="464.20" y2="753.10" stroke="#000" stroke-width="1.4"/>
<line x1="353.10" y1="718.50" x2="353.10" y2="748.00" stroke="#1a1a1a" stroke-width="1.0"/>
<line x1="350.80" y1="718.50" x2="355.40" y2="718.50" stroke="#1a1a1a" stroke-width="1.0"/>
<rect x="348.45" y="748.45" width="8.80" height="4.50" fill="#fff" stroke="#d44a66" stroke-width="0.9" rx="0.6"/>
<line x1="348.45" y1="750.90" x2="357.25" y2="750.90" stroke="#d44a66" stroke-width="0.9"/>
<line x1="367.70" y1="651.30" x2="367.70" y2="714.30" stroke="#1a1a1a" stroke-width="1.0"/>
<line x1="365.40" y1="651.30" x2="370.00" y2="651.30" stroke="#1a1a1a" stroke-width="1.0"/>
<line x1="367.70" y1="744.20" x2="367.70" y2="750.50" stroke="#1a1a1a" stroke-width="1.0"/>
<line x1="365.60" y1="750.50" x2="369.80" y2="750.50" stroke="#1a1a1a" stroke-width="1.0"/>
<rect x="363.70" y="714.90" width="8.00" height="28.70" fill="#fff" stroke="#d44a66" stroke-width="1.2" rx="0.6"/>
<line x1="363.70" y1="736.20" x2="371.70" y2="736.20" stroke="#d44a66" stroke-width="1.2"/>
<line x1="396.90" y1="721.20" x2="396.90" y2="739.20" stroke="#1a1a1a" stroke-width="1.0"/>
<line x1="394.60" y1="721.20" x2="399.20" y2="721.20" stroke="#1a1a1a" stroke-width="1.0"/>
<line x1="396.90" y1="751.20" x2="396.90" y2="753.00" stroke="#1a1a1a" stroke-width="1.0"/>
<rect x="393.40" y="739.80" width="7.50" height="10.80" fill="#fff" stroke="#d44a66" stroke-width="1.2" rx="0.6"/>
<line x1="393.40" y1="748.90" x2="400.90" y2="748.90" stroke="#d44a66" stroke-width="1.2"/>
<line x1="411.50" y1="651.70" x2="411.50" y2="706.60" stroke="#1a1a1a" stroke-width="1.0"/>
<line x1="409.20" y1="651.70" x2="413.80" y2="651.70" stroke="#1a1a1a" stroke-width="1.0"/>
<line x1="411.50" y1="747.20" x2="411.50" y2="753.00" stroke="#1a1a1a" stroke-width="1.0"/>
<rect x="407.20" y="707.20" width="8.40" height="39.40" fill="#fff" stroke="#d44a66" stroke-width="1.2" rx="0.6"/>
<line x1="407.20" y1="735.40" x2="415.60" y2="735.40" stroke="#d44a66" stroke-width="1.2"/>
<line x1="440.80" y1="665.60" x2="440.80" y2="737.40" stroke="#1a1a1a" stroke-width="1.0"/>
<line x1="438.50" y1="665.60" x2="443.10" y2="665.60" stroke="#1a1a1a" stroke-width="1.0"/>
<line x1="440.80" y1="750.30" x2="440.80" y2="753.00" stroke="#1a1a1a" stroke-width="1.0"/>
<rect x="436.40" y="738.00" width="8.40" height="11.70" fill="#fff" stroke="#d44a66" stroke-width="1.2" rx="0.6"/>
<line x1="436.40" y1="748.50" x2="444.80" y2="748.50" stroke="#d44a66" stroke-width="1.2"/>
<line x1="455.70" y1="651.50" x2="455.70" y2="714.30" stroke="#1a1a1a" stroke-width="1.0"/>
<line x1="453.40" y1="651.50" x2="458.00" y2="651.50" stroke="#1a1a1a" stroke-width="1.0"/>
<line x1="455.70" y1="745.70" x2="455.70" y2="750.80" stroke="#1a1a1a" stroke-width="1.0"/>
<line x1="453.60" y1="750.80" x2="457.80" y2="750.80" stroke="#1a1a1a" stroke-width="1.0"/>
<rect x="451.40" y="714.90" width="8.50" height="30.20" fill="#fff" stroke="#d44a66" stroke-width="1.2" rx="0.6"/>
<line x1="451.40" y1="734.20" x2="459.90" y2="734.20" stroke="#d44a66" stroke-width="1.2"/>
<line x1="349.20" y1="646.10" x2="370.80" y2="646.10" stroke="#222" stroke-width="1.2"/>
<text x="359.20" y="645.60" font-size="8.5" text-anchor="middle" font-weight="bold">**</text>
<line x1="395.00" y1="646.10" x2="415.60" y2="646.10" stroke="#222" stroke-width="1.2"/>
<text x="399.26" y="641.20" font-size="9.80" textLength="10.40" lengthAdjust="spacingAndGlyphs">ns</text>
<line x1="435.20" y1="646.10" x2="456.30" y2="646.10" stroke="#222" stroke-width="1.2"/>
<text x="439.46" y="641.20" font-size="9.80" textLength="10.40" lengthAdjust="spacingAndGlyphs">ns</text>
<text x="307.90" y="730.72" font-size="14.00" textLength="61.91" lengthAdjust="spacingAndGlyphs" transform="rotate(-90 307.90 730.72)" stroke="#000" stroke-width="0.3">Peak axi-cel/μL</text>
<text x="345.28" y="766.40" font-size="9.80" textLength="28.17" lengthAdjust="spacingAndGlyphs">no yes</text>
<text x="388.73" y="765.60" font-size="9.40" textLength="13.23" lengthAdjust="spacingAndGlyphs">0-1</text>
<path d="M406.2,758.9 L412.4,762.2 L406.2,765.5" fill="none" stroke="#000" stroke-width="1.0" stroke-linejoin="miter"/>
<text x="416.75" y="765.60" font-size="9.40" textLength="3.36" lengthAdjust="spacingAndGlyphs">1</text>
<text x="437.60" y="766.40" font-size="9.80" textLength="5.62" lengthAdjust="spacingAndGlyphs">0</text>
<text x="446.69" y="766.40" font-size="9.80" textLength="13.59" lengthAdjust="spacingAndGlyphs">1-4</text>
<text x="337.32" y="780.80" font-size="9.60" textLength="44.05" lengthAdjust="spacingAndGlyphs">Response</text>
<text x="393.46" y="780.80" font-size="9.60" textLength="22.74" lengthAdjust="spacingAndGlyphs">CRS</text>
<text x="430.87" y="780.80" font-size="9.60" textLength="31.71" lengthAdjust="spacingAndGlyphs">ICANS</text>
<text x="335.03" y="797.80" font-size="9.60" font-style="italic" textLength="5.93" lengthAdjust="spacingAndGlyphs">P</text>
<line x1="342.50" y1="793.60" x2="351.00" y2="793.60" stroke="#111" stroke-width="0.75"/>
<line x1="342.50" y1="796.50" x2="351.00" y2="796.50" stroke="#111" stroke-width="0.75"/>
<text x="353.37" y="797.80" font-size="9.60" textLength="29.74" lengthAdjust="spacingAndGlyphs">0.006;</text>
<text x="385.42" y="797.80" font-size="9.60" textLength="9.40" lengthAdjust="spacingAndGlyphs">ns</text>
<line x1="397.30" y1="793.60" x2="405.30" y2="793.60" stroke="#111" stroke-width="0.75"/>
<line x1="397.30" y1="796.50" x2="405.30" y2="796.50" stroke="#111" stroke-width="0.75"/>
<text x="407.77" y="797.80" font-size="9.60" textLength="59.33" lengthAdjust="spacingAndGlyphs">not significant</text>
</svg>
</body></html>
